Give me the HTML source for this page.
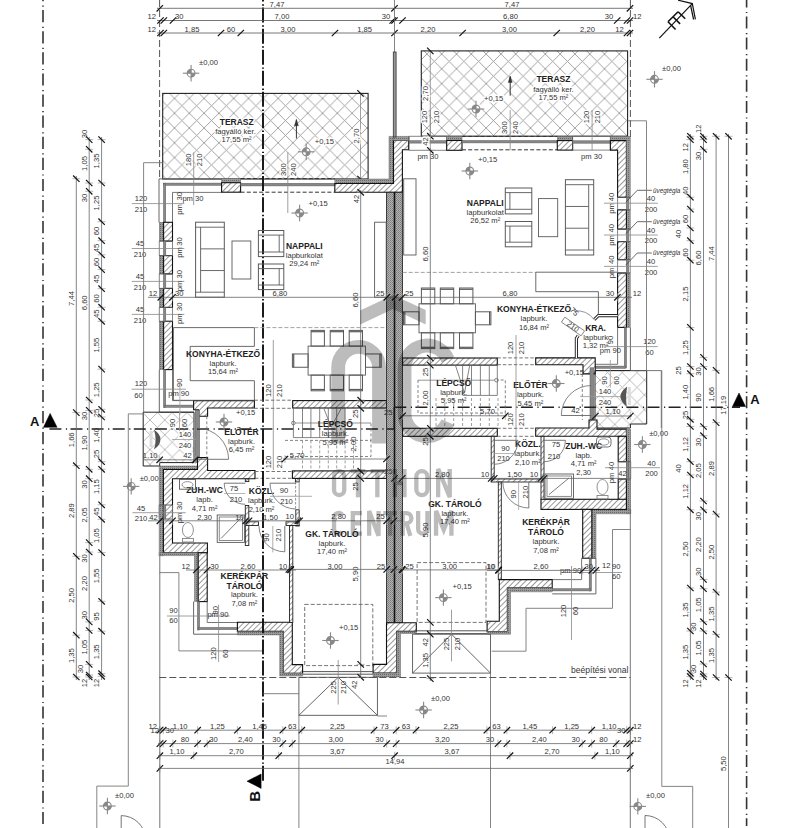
<!DOCTYPE html>
<html><head><meta charset="utf-8"><style>
html,body{margin:0;padding:0;background:#fff;overflow:hidden}
svg{display:block}
text{font-family:"Liberation Sans", sans-serif}
</style></head><body>
<svg width="787" height="828" viewBox="0 0 787 828">
<defs><pattern id="dg" patternUnits="userSpaceOnUse" width="3.95" height="3.95" patternTransform="rotate(45)"><rect width="3.95" height="3.95" fill="#fff"/><line x1="0" y1="0" x2="0" y2="3.95" stroke="#444" stroke-width="1.1"/></pattern><pattern id="ins" patternUnits="userSpaceOnUse" width="2" height="2"><rect width="2" height="2" fill="#9a9a9a"/><rect width="1" height="1" fill="#6a6a6a"/></pattern><pattern id="pw" patternUnits="userSpaceOnUse" width="2" height="2"><rect width="2" height="2" fill="#b4b4b4"/><rect width="1" height="1" fill="#7a7a7a"/><rect x="1" y="1" width="1" height="1" fill="#8a8a8a"/></pattern><pattern id="xh1" patternUnits="userSpaceOnUse" x="11.699999999999992" y="9.600000000000001" width="14.8" height="14.8"><path d="M0,0 L14.8,14.8 M14.8,0 L0,14.8 M-1,13.8 L1,15.8 M13.8,-1 L15.8,1 M-1,1 L1,-1 M13.8,15.8 L15.8,13.8" stroke="#999" stroke-width="0.9"/></pattern><pattern id="xh2" patternUnits="userSpaceOnUse" x="12.500000000000004" y="9.600000000000001" width="14.8" height="14.8"><path d="M0,0 L14.8,14.8 M14.8,0 L0,14.8 M-1,13.8 L1,15.8 M13.8,-1 L15.8,1 M-1,1 L1,-1 M13.8,15.8 L15.8,13.8" stroke="#999" stroke-width="0.9"/></pattern><pattern id="xh3" patternUnits="userSpaceOnUse" x="1.999999999999993" y="5.59999999999998" width="14.8" height="14.8"><path d="M0,0 L14.8,14.8 M14.8,0 L0,14.8 M-1,13.8 L1,15.8 M13.8,-1 L15.8,1 M-1,1 L1,-1 M13.8,15.8 L15.8,13.8" stroke="#aaa" stroke-width="0.8"/></pattern><pattern id="xh4" patternUnits="userSpaceOnUse" x="7.999999999999972" y="9.999999999999982" width="14.8" height="14.8"><path d="M0,0 L14.8,14.8 M14.8,0 L0,14.8 M-1,13.8 L1,15.8 M13.8,-1 L15.8,1 M-1,1 L1,-1 M13.8,15.8 L15.8,13.8" stroke="#aaa" stroke-width="0.8"/></pattern></defs>
<rect width="787" height="828" fill="#fff"/>
<rect x="162.7" y="93.4" width="205.4" height="85.6" fill="url(#xh1)" stroke="#222" stroke-width="1.1" />
<rect x="421.3" y="50.9" width="206.3" height="85.3" fill="url(#xh2)" stroke="#222" stroke-width="1.1" />
<text x="236.7" y="125.1" font-size="8.5" text-anchor="middle" font-weight="bold" fill="#222"  stroke="#fff" stroke-width="2.8" paint-order="stroke" stroke-linejoin="round">TERASZ</text>
<text x="235.5" y="134" font-size="7.6" text-anchor="middle" font-weight="normal" fill="#333"  stroke="#fff" stroke-width="2.8" paint-order="stroke" stroke-linejoin="round">fagyálló ker.</text>
<text x="236.6" y="142" font-size="7.6" text-anchor="middle" font-weight="normal" fill="#333"  stroke="#fff" stroke-width="2.8" paint-order="stroke" stroke-linejoin="round">17,55 m²</text>
<line x1="296.4" y1="138.5" x2="296.4" y2="119.8" stroke="#333" stroke-width="1" />
<polygon points="296.4,119.3 294.4,125.8 298.4,125.8" fill="#333" stroke="#333" stroke-width="0.4" />
<text x="314.8" y="143.8" font-size="7.6" text-anchor="start" font-weight="normal" fill="#333"  stroke="#fff" stroke-width="2.8" paint-order="stroke" stroke-linejoin="round">+0,15</text>
<circle cx="306.2" cy="151.8" r="6.1" fill="#fff"/>
<g stroke="#888" fill="none" stroke-width="1.1"><circle cx="306.2" cy="151.8" r="3.9"/><line x1="298.0" y1="151.8" x2="314.4" y2="151.8"/><line x1="306.2" y1="143.60000000000002" x2="306.2" y2="160.0"/></g><path d="M306.2,147.9 A3.9,3.9 0 0,0 302.3,151.8 L306.2,151.8 Z" fill="#888"/><path d="M306.2,155.70000000000002 A3.9,3.9 0 0,0 310.09999999999997,151.8 L306.2,151.8 Z" fill="#888"/>
<text x="553.4" y="82.4" font-size="8.5" text-anchor="middle" font-weight="bold" fill="#222"  stroke="#fff" stroke-width="2.8" paint-order="stroke" stroke-linejoin="round">TERASZ</text>
<text x="553.4" y="91.7" font-size="7.6" text-anchor="middle" font-weight="normal" fill="#333"  stroke="#fff" stroke-width="2.8" paint-order="stroke" stroke-linejoin="round">fagyálló ker.</text>
<text x="553.4" y="100.2" font-size="7.6" text-anchor="middle" font-weight="normal" fill="#333"  stroke="#fff" stroke-width="2.8" paint-order="stroke" stroke-linejoin="round">17,55 m²</text>
<line x1="510.2" y1="95.7" x2="510.2" y2="76.5" stroke="#333" stroke-width="1" />
<polygon points="510.2,76.0 508.2,82.5 512.2,82.5" fill="#333" stroke="#333" stroke-width="0.4" />
<text x="484" y="101" font-size="7.6" text-anchor="start" font-weight="normal" fill="#333"  stroke="#fff" stroke-width="2.8" paint-order="stroke" stroke-linejoin="round">+0,15</text>
<circle cx="476" cy="109" r="6.1" fill="#fff"/>
<g stroke="#888" fill="none" stroke-width="1.1"><circle cx="476" cy="109" r="3.9"/><line x1="467.8" y1="109" x2="484.2" y2="109"/><line x1="476" y1="100.8" x2="476" y2="117.2"/></g><path d="M476,105.1 A3.9,3.9 0 0,0 472.1,109 L476,109 Z" fill="#888"/><path d="M476,112.9 A3.9,3.9 0 0,0 479.9,109 L476,109 Z" fill="#888"/>
<line x1="360.5" y1="93.4" x2="360.5" y2="179" stroke="#888" stroke-width="0.8" />
<line x1="357.3" y1="90.2" x2="363.7" y2="96.60000000000001" stroke="#111" stroke-width="1.2" />
<line x1="357.3" y1="175.8" x2="363.7" y2="182.2" stroke="#111" stroke-width="1.2" />
<text x="358.5" y="136" font-size="7.6" text-anchor="middle" font-weight="normal" fill="#333" transform="rotate(-90 358.5 136)"  stroke="#fff" stroke-width="2.8" paint-order="stroke" stroke-linejoin="round">2,70</text>
<line x1="430.3" y1="50.9" x2="430.3" y2="136.2" stroke="#888" stroke-width="0.8" />
<line x1="427.1" y1="47.699999999999996" x2="433.5" y2="54.1" stroke="#111" stroke-width="1.2" />
<line x1="427.1" y1="133.0" x2="433.5" y2="139.39999999999998" stroke="#111" stroke-width="1.2" />
<text x="428.3" y="93.5" font-size="7.6" text-anchor="middle" font-weight="normal" fill="#333" transform="rotate(-90 428.3 93.5)"  stroke="#fff" stroke-width="2.8" paint-order="stroke" stroke-linejoin="round">2,70</text>
<line x1="159" y1="178.9" x2="221.6" y2="178.9" stroke="#666" stroke-width="1" />
<line x1="172.5" y1="192.4" x2="221.6" y2="192.4" stroke="#666" stroke-width="0.9" />
<rect x="163.5" y="183.1" width="58.099999999999994" height="2.2" fill="#888" stroke="#5a5a5a" stroke-width="0.5"/>
<rect x="221.6" y="178.6" width="19.0" height="4.099999999999994" fill="url(#ins)" stroke="#666" stroke-width="0.5"/>
<rect x="221.6" y="182.7" width="19.0" height="9.5" fill="url(#dg)" stroke="#111" stroke-width="1.1"/>
<line x1="240.6" y1="178.6" x2="334.8" y2="178.6" stroke="#333" stroke-width="1" stroke-dasharray="4 2.2"/>
<line x1="240.6" y1="192.2" x2="334.8" y2="192.2" stroke="#333" stroke-width="1" stroke-dasharray="4 2.2"/>
<rect x="240.6" y="183.29999999999998" width="94.20000000000002" height="2.6" fill="#888" stroke="#5a5a5a" stroke-width="0.5"/>
<polygon points="334.8,179 389,179 389,136.4 393.5,136.4 393.5,183.5 334.8,183.5" fill="url(#ins)" stroke="#666" stroke-width="0.5" />
<polygon points="334.8,183.5 393.5,183.5 393.5,140.2 408.5,140.2 408.5,149.8 402.4,149.8 402.4,192.3 334.8,192.3" fill="url(#dg)" stroke="#111" stroke-width="1.1" />
<line x1="159" y1="178.9" x2="159" y2="222.3" stroke="#666" stroke-width="1" />
<line x1="172.5" y1="192.4" x2="172.5" y2="222.3" stroke="#666" stroke-width="0.9" />
<rect x="163.5" y="183.2" width="2.2" height="39.10000000000002" fill="#888" stroke="#5a5a5a" stroke-width="0.5"/>
<rect x="159.3" y="222.3" width="4.299999999999983" height="18.799999999999983" fill="url(#ins)" stroke="#666" stroke-width="0.5"/>
<rect x="163.6" y="222.3" width="8.900000000000006" height="18.799999999999983" fill="url(#dg)" stroke="#111" stroke-width="1.1"/>
<rect x="159.3" y="255.6" width="4.299999999999983" height="18.299999999999983" fill="url(#ins)" stroke="#666" stroke-width="0.5"/>
<rect x="163.6" y="255.6" width="8.900000000000006" height="18.299999999999983" fill="url(#dg)" stroke="#111" stroke-width="1.1"/>
<rect x="159.3" y="288.4" width="4.299999999999983" height="19.0" fill="url(#ins)" stroke="#666" stroke-width="0.5"/>
<rect x="163.6" y="288.4" width="8.900000000000006" height="19.0" fill="url(#dg)" stroke="#111" stroke-width="1.1"/>
<rect x="159.3" y="321.3" width="4.299999999999983" height="48.30000000000001" fill="url(#ins)" stroke="#666" stroke-width="0.5"/>
<rect x="163.6" y="321.3" width="8.900000000000006" height="48.30000000000001" fill="url(#dg)" stroke="#111" stroke-width="1.1"/>
<line x1="159.3" y1="241.1" x2="159.3" y2="255.6" stroke="#777" stroke-width="0.9" />
<line x1="172.5" y1="241.1" x2="172.5" y2="255.6" stroke="#777" stroke-width="0.9" />
<line x1="159.3" y1="241.1" x2="172.5" y2="241.1" stroke="#555" stroke-width="0.9" />
<line x1="159.3" y1="255.6" x2="172.5" y2="255.6" stroke="#555" stroke-width="0.9" />
<rect x="163.4" y="241.1" width="2.4" height="14.5" fill="#888" stroke="#5a5a5a" stroke-width="0.5"/>
<line x1="159.3" y1="273.9" x2="159.3" y2="288.4" stroke="#777" stroke-width="0.9" />
<line x1="172.5" y1="273.9" x2="172.5" y2="288.4" stroke="#777" stroke-width="0.9" />
<line x1="159.3" y1="273.9" x2="172.5" y2="273.9" stroke="#555" stroke-width="0.9" />
<line x1="159.3" y1="288.4" x2="172.5" y2="288.4" stroke="#555" stroke-width="0.9" />
<rect x="163.4" y="273.9" width="2.4" height="14.5" fill="#888" stroke="#5a5a5a" stroke-width="0.5"/>
<line x1="159.3" y1="307.4" x2="159.3" y2="321.3" stroke="#777" stroke-width="0.9" />
<line x1="172.5" y1="307.4" x2="172.5" y2="321.3" stroke="#777" stroke-width="0.9" />
<line x1="159.3" y1="307.4" x2="172.5" y2="307.4" stroke="#555" stroke-width="0.9" />
<line x1="159.3" y1="321.3" x2="172.5" y2="321.3" stroke="#555" stroke-width="0.9" />
<rect x="163.4" y="307.4" width="2.4" height="13.900000000000034" fill="#888" stroke="#5a5a5a" stroke-width="0.5"/>
<line x1="159.3" y1="369.6" x2="159.3" y2="412.2" stroke="#666" stroke-width="1" />
<line x1="172.5" y1="369.6" x2="172.5" y2="400.6" stroke="#666" stroke-width="0.9" />
<rect x="163.5" y="369.6" width="2.2" height="37.89999999999998" fill="#888" stroke="#5a5a5a" stroke-width="0.5"/>
<rect x="164.6" y="405.09999999999997" width="29.400000000000006" height="2.2" fill="#888" stroke="#5a5a5a" stroke-width="0.5"/>
<line x1="159.3" y1="412.2" x2="194" y2="412.2" stroke="#666" stroke-width="1" />
<line x1="172.5" y1="400.6" x2="194" y2="400.6" stroke="#666" stroke-width="0.9" />
<polygon points="193.6,400.6 254.4,400.6 254.4,408 207.6,408 207.6,416.3 198.5,416.3 198.5,409.7 193.6,409.7" fill="url(#dg)" stroke="#111" stroke-width="1.1" />
<rect x="292.7" y="400.6" width="93.80000000000001" height="7.399999999999977" fill="url(#dg)" stroke="#111" stroke-width="1.1"/>
<rect x="195.2" y="410.2" width="4.4" height="52.2" fill="#888" stroke="#555" stroke-width="0.5"/>
<polygon points="143.2,412.2 194,412.2 194,462.6 159.7,462.6 159.7,466 143.2,466" fill="url(#xh3)" stroke="#222" stroke-width="1" />
<polygon points="159.2,466 197.5,466 197.5,469.5 163.4,469.5 163.4,555.6 159.2,555.6" fill="url(#ins)" stroke="#666" stroke-width="0.5" />
<polygon points="163.4,469.5 197.5,469.5 197.5,457.6 207.6,457.6 207.6,470.5 255,470.5 255,478.8 172.5,478.8 172.5,543 207.4,543 207.4,552.8 163.4,552.8" fill="url(#dg)" stroke="#111" stroke-width="1.1" />
<line x1="159.2" y1="505" x2="159.2" y2="519" stroke="#777" stroke-width="0.9" />
<line x1="172.5" y1="505" x2="172.5" y2="519" stroke="#777" stroke-width="0.9" />
<line x1="159.2" y1="505" x2="172.5" y2="505" stroke="#555" stroke-width="0.9" />
<line x1="159.2" y1="519" x2="172.5" y2="519" stroke="#555" stroke-width="0.9" />
<rect x="163.4" y="505" width="2.4" height="14" fill="#888" stroke="#5a5a5a" stroke-width="0.5"/>
<rect x="245.3" y="478.8" width="3.5" height="2.8" fill="url(#dg)" stroke="#222" stroke-width="0.9"/>
<rect x="245.3" y="505.5" width="3.5" height="40" fill="url(#dg)" stroke="#222" stroke-width="0.9"/>
<path d="M255,471.5 H292.4 M255,478.3 H292.4" stroke="#666" stroke-width="0.9" stroke-dasharray="3.5 2"/>
<rect x="295.4" y="478.1" width="3.8" height="3.8" fill="url(#dg)" stroke="#222" stroke-width="0.9"/>
<rect x="295.8" y="509.8" width="3.4" height="16.2" fill="url(#dg)" stroke="#222" stroke-width="0.9"/>
<line x1="295.6" y1="482" x2="295.6" y2="509" stroke="#888" stroke-width="0.9" stroke-dasharray="2.5 1.5"/>
<line x1="299.2" y1="482" x2="299.2" y2="509" stroke="#aaa" stroke-width="1.2"/>
<rect x="245.9" y="521.8" width="12.6" height="3.7" fill="url(#dg)" stroke="#222" stroke-width="0.9"/>
<rect x="286" y="521.8" width="13.2" height="3.7" fill="url(#dg)" stroke="#222" stroke-width="0.9"/>
<polygon points="159.2,552.8 198.2,552.8 198.2,601.6 194.5,601.6 194.5,555.6 159.2,555.6" fill="url(#ins)" stroke="#666" stroke-width="0.5" />
<rect x="198.2" y="552.8" width="9.0" height="48.80000000000007" fill="url(#dg)" stroke="#111" stroke-width="1.1"/>
<line x1="193.6" y1="601.6" x2="193.6" y2="634.2" stroke="#666" stroke-width="1" />
<line x1="207.2" y1="601.6" x2="207.2" y2="622.5" stroke="#666" stroke-width="0.9" />
<rect x="197.4" y="601.6" width="2.2" height="28.399999999999977" fill="#888" stroke="#5a5a5a" stroke-width="0.5"/>
<rect x="198.5" y="627.4" width="39.5" height="2.2" fill="#888" stroke="#5a5a5a" stroke-width="0.5"/>
<line x1="193.6" y1="634.2" x2="238" y2="634.2" stroke="#666" stroke-width="1" />
<line x1="207.2" y1="622.5" x2="238" y2="622.5" stroke="#666" stroke-width="0.9" />
<polygon points="237.4,622.3 292.3,622.3 292.3,664.6 302.6,664.6 302.6,673.2 283.2,673.2 283.2,631.4 237.4,631.4" fill="url(#dg)" stroke="#111" stroke-width="1.1" />
<polygon points="237.4,631.4 283.2,631.4 283.2,673.2 302.6,673.2 302.6,676 279.7,676 279.7,634.9 237.4,634.9" fill="url(#ins)" stroke="#666" stroke-width="0.5" />
<rect x="289.5" y="525.5" width="3.3" height="97" fill="url(#dg)" stroke="#222" stroke-width="0.9"/>
<rect x="292.4" y="470.9" width="94.30000000000001" height="7.5" fill="url(#dg)" stroke="#111" stroke-width="1.1"/>
<rect x="304.7" y="604.4" width="68.1" height="61.2" fill="none" stroke="#666" stroke-width="0.9" stroke-dasharray="4 2"/>
<rect x="386.6" y="192.3" width="7.899999999999977" height="430.49999999999994" fill="url(#pw)" stroke="#222" stroke-width="0.9"/>
<rect x="394.5" y="192.3" width="7.899999999999977" height="430.49999999999994" fill="url(#pw)" stroke="#222" stroke-width="0.9"/>
<line x1="394.5" y1="192.3" x2="394.5" y2="622.8" stroke="#111" stroke-width="1.6" />
<polygon points="393.5,136.4 409,136.4 409,140.5 393.5,140.5" fill="url(#ins)" stroke="#666" stroke-width="0.5" />
<line x1="409" y1="136.3" x2="446.7" y2="136.3" stroke="#777" stroke-width="0.9" />
<line x1="409" y1="150.3" x2="446.7" y2="150.3" stroke="#777" stroke-width="0.9" />
<line x1="409" y1="136.3" x2="409" y2="150.3" stroke="#555" stroke-width="0.9" />
<line x1="446.7" y1="136.3" x2="446.7" y2="150.3" stroke="#555" stroke-width="0.9" />
<rect x="409" y="140.70000000000002" width="37.69999999999999" height="2.4" fill="#888" stroke="#5a5a5a" stroke-width="0.5"/>
<rect x="446.7" y="136.3" width="15.300000000000011" height="4.199999999999989" fill="url(#ins)" stroke="#666" stroke-width="0.5"/>
<rect x="446.7" y="140.5" width="15.300000000000011" height="9.800000000000011" fill="url(#dg)" stroke="#111" stroke-width="1.1"/>
<line x1="462" y1="136.4" x2="557.3" y2="136.4" stroke="#333" stroke-width="1" stroke-dasharray="4 2.2"/>
<line x1="462" y1="149.8" x2="557.3" y2="149.8" stroke="#333" stroke-width="1" stroke-dasharray="4 2.2"/>
<rect x="462" y="140.5" width="95.29999999999995" height="2.4" fill="#888" stroke="#5a5a5a" stroke-width="0.5"/>
<rect x="557.3" y="136.5" width="15.300000000000068" height="4.099999999999994" fill="url(#ins)" stroke="#666" stroke-width="0.5"/>
<rect x="557.3" y="140.6" width="15.300000000000068" height="9.5" fill="url(#dg)" stroke="#111" stroke-width="1.1"/>
<line x1="572.6" y1="136.3" x2="610.4" y2="136.3" stroke="#777" stroke-width="0.9" />
<line x1="572.6" y1="150.1" x2="610.4" y2="150.1" stroke="#777" stroke-width="0.9" />
<line x1="572.6" y1="136.3" x2="572.6" y2="150.1" stroke="#555" stroke-width="0.9" />
<line x1="610.4" y1="136.3" x2="610.4" y2="150.1" stroke="#555" stroke-width="0.9" />
<rect x="572.6" y="140.8" width="37.799999999999955" height="2.4" fill="#888" stroke="#5a5a5a" stroke-width="0.5"/>
<rect x="610.4" y="136.3" width="19.800000000000068" height="4.299999999999983" fill="url(#ins)" stroke="#666" stroke-width="0.5"/>
<polygon points="610.4,140.6 626.4,140.6 626.4,197.3 617.6,197.3 617.6,150.1 610.4,150.1" fill="url(#dg)" stroke="#111" stroke-width="1.1" />
<rect x="626.4" y="140.6" width="3.800000000000068" height="56.70000000000002" fill="url(#ins)" stroke="#666" stroke-width="0.5"/>
<rect x="626.4" y="209.8" width="3.800000000000068" height="19.299999999999983" fill="url(#ins)" stroke="#666" stroke-width="0.5"/>
<rect x="617.6" y="209.8" width="8.799999999999955" height="19.299999999999983" fill="url(#dg)" stroke="#111" stroke-width="1.1"/>
<rect x="626.4" y="241.6" width="3.800000000000068" height="18.099999999999994" fill="url(#ins)" stroke="#666" stroke-width="0.5"/>
<rect x="617.6" y="241.6" width="8.799999999999955" height="18.099999999999994" fill="url(#dg)" stroke="#111" stroke-width="1.1"/>
<rect x="626.4" y="273" width="3.800000000000068" height="54.39999999999998" fill="url(#ins)" stroke="#666" stroke-width="0.5"/>
<rect x="617.6" y="273" width="8.799999999999955" height="54.39999999999998" fill="url(#dg)" stroke="#111" stroke-width="1.1"/>
<line x1="630.2" y1="197.3" x2="630.2" y2="209.8" stroke="#777" stroke-width="0.9" />
<line x1="617.6" y1="197.3" x2="617.6" y2="209.8" stroke="#777" stroke-width="0.9" />
<line x1="630.2" y1="197.3" x2="617.6" y2="197.3" stroke="#555" stroke-width="0.9" />
<line x1="630.2" y1="209.8" x2="617.6" y2="209.8" stroke="#555" stroke-width="0.9" />
<rect x="626.3" y="197.3" width="2.4" height="12.5" fill="#888" stroke="#5a5a5a" stroke-width="0.5"/>
<line x1="630.2" y1="229.1" x2="630.2" y2="241.6" stroke="#777" stroke-width="0.9" />
<line x1="617.6" y1="229.1" x2="617.6" y2="241.6" stroke="#777" stroke-width="0.9" />
<line x1="630.2" y1="229.1" x2="617.6" y2="229.1" stroke="#555" stroke-width="0.9" />
<line x1="630.2" y1="241.6" x2="617.6" y2="241.6" stroke="#555" stroke-width="0.9" />
<rect x="626.3" y="229.1" width="2.4" height="12.5" fill="#888" stroke="#5a5a5a" stroke-width="0.5"/>
<line x1="630.2" y1="259.7" x2="630.2" y2="273" stroke="#777" stroke-width="0.9" />
<line x1="617.6" y1="259.7" x2="617.6" y2="273" stroke="#777" stroke-width="0.9" />
<line x1="630.2" y1="259.7" x2="617.6" y2="259.7" stroke="#555" stroke-width="0.9" />
<line x1="630.2" y1="273" x2="617.6" y2="273" stroke="#555" stroke-width="0.9" />
<rect x="626.3" y="259.7" width="2.4" height="13.300000000000011" fill="#888" stroke="#5a5a5a" stroke-width="0.5"/>
<line x1="630.4" y1="327.4" x2="630.4" y2="370.6" stroke="#666" stroke-width="1" />
<line x1="617.6" y1="327.4" x2="617.6" y2="364.3" stroke="#666" stroke-width="0.9" />
<rect x="624.3" y="327.4" width="2.2" height="40.60000000000002" fill="#888" stroke="#5a5a5a" stroke-width="0.5"/>
<rect x="591.4" y="366.09999999999997" width="34.0" height="2.2" fill="#888" stroke="#5a5a5a" stroke-width="0.5"/>
<line x1="591.4" y1="364.3" x2="617.6" y2="364.3" stroke="#666" stroke-width="0.9" />
<line x1="591.4" y1="370.6" x2="630.4" y2="370.6" stroke="#666" stroke-width="1" />
<rect x="402.6" y="358" width="94.69999999999999" height="7.100000000000023" fill="url(#dg)" stroke="#111" stroke-width="1.1"/>
<rect x="402.6" y="428.3" width="94.69999999999999" height="8.0" fill="url(#dg)" stroke="#111" stroke-width="1.1"/>
<polygon points="535.7,357.9 583,357.9 583,357.9 595.2,357.9 595.2,373.9 583,373.9 583,364.7 535.7,364.7" fill="url(#dg)" stroke="#111" stroke-width="1.1" />
<polyline points="576.4,358 576.4,338.5 578.2,335.7" fill="none" stroke="#222" stroke-width="3.2" />
<polyline points="594.2,319.6 598.4,315.6 617.6,315.6" fill="none" stroke="#222" stroke-width="3.2" />
<polyline points="576.4,358 576.4,338.5 578.2,335.7" fill="none" stroke="#fff" stroke-width="1.3" />
<polyline points="594.2,319.6 598.4,315.6 617.6,315.6" fill="none" stroke="#fff" stroke-width="1.3" />
<rect x="590" y="367.8" width="3.6" height="55.6" fill="#888" stroke="#555" stroke-width="0.5"/>
<polygon points="595,370.6 646.7,370.6 646.7,424 630.4,424 630.4,428 595,428" fill="url(#xh4)" stroke="#222" stroke-width="1" />
<line x1="630.4" y1="370.6" x2="661.3" y2="370.6" stroke="#666" stroke-width="0.9" />
<line x1="661.3" y1="370.6" x2="661.3" y2="428" stroke="#666" stroke-width="0.9" />
<polygon points="535.7,428 589,428 589,420 597,420 597,429.1 626.4,429.1 626.4,436.3 535.7,436.3" fill="url(#dg)" stroke="#111" stroke-width="1.1" />
<rect x="626.4" y="429.1" width="4.300000000000068" height="84.69999999999993" fill="url(#ins)" stroke="#666" stroke-width="0.5"/>
<polygon points="591.8,509.4 630.7,509.4 630.7,513.8 596,513.8 596,558.3 591.8,558.3" fill="url(#ins)" stroke="#666" stroke-width="0.5" />
<rect x="618.2" y="436.3" width="8.199999999999932" height="25.399999999999977" fill="url(#dg)" stroke="#111" stroke-width="1.1"/>
<rect x="618.2" y="479" width="8.199999999999932" height="30.399999999999977" fill="url(#dg)" stroke="#111" stroke-width="1.1"/>
<line x1="630.7" y1="461.7" x2="630.7" y2="479" stroke="#777" stroke-width="0.9" />
<line x1="618.2" y1="461.7" x2="618.2" y2="479" stroke="#777" stroke-width="0.9" />
<line x1="630.7" y1="461.7" x2="618.2" y2="461.7" stroke="#555" stroke-width="0.9" />
<line x1="630.7" y1="479" x2="618.2" y2="479" stroke="#555" stroke-width="0.9" />
<rect x="626.3" y="461.7" width="2.4" height="17.30000000000001" fill="#888" stroke="#5a5a5a" stroke-width="0.5"/>
<rect x="541" y="499.3" width="85.39999999999998" height="10.099999999999966" fill="url(#dg)" stroke="#111" stroke-width="1.1"/>
<rect x="541" y="436.3" width="3" height="63" fill="url(#dg)" stroke="#222" stroke-width="0.9"/>
<rect x="491.2" y="436.3" width="3" height="42.7" fill="url(#dg)" stroke="#222" stroke-width="0.9"/>
<rect x="491.2" y="479" width="52" height="3" fill="url(#dg)" stroke="#222" stroke-width="0.9"/>
<rect x="582.7" y="509.4" width="9.099999999999909" height="48.89999999999998" fill="url(#dg)" stroke="#111" stroke-width="1.1"/>
<rect x="498.3" y="482" width="3" height="97.6" fill="url(#dg)" stroke="#222" stroke-width="0.9"/>
<line x1="595.9" y1="558.3" x2="595.9" y2="593.9" stroke="#666" stroke-width="1" />
<line x1="581.6" y1="558.3" x2="581.6" y2="579.6" stroke="#666" stroke-width="0.9" />
<rect x="589.1999999999999" y="558.3" width="2.2" height="32.700000000000045" fill="#888" stroke="#5a5a5a" stroke-width="0.5"/>
<rect x="552.2" y="588.6999999999999" width="38.09999999999991" height="2.2" fill="#888" stroke="#5a5a5a" stroke-width="0.5"/>
<line x1="552.2" y1="579.6" x2="581.6" y2="579.6" stroke="#666" stroke-width="0.9" />
<line x1="552.2" y1="593.9" x2="595.9" y2="593.9" stroke="#666" stroke-width="1" />
<line x1="581.6" y1="558.3" x2="595.9" y2="558.3" stroke="#555" stroke-width="0.9" />
<polygon points="499.3,579.6 552.2,579.6 552.2,587.8 507.4,587.8 507.4,631.5 487.1,631.5 487.1,621.3 499.3,621.3" fill="url(#dg)" stroke="#111" stroke-width="1.1" />
<polygon points="507.4,587.8 552.2,587.8 552.2,591.8 510.5,591.8 510.5,634.2 487.1,634.2 487.1,631.5 507.4,631.5" fill="url(#ins)" stroke="#666" stroke-width="0.5" />
<polygon points="386.5,622.8 416.3,622.8 416.3,631.4 396.7,631.4 396.7,673 373.1,673 373.1,664.4 386.5,664.4" fill="url(#dg)" stroke="#111" stroke-width="1.1" />
<polygon points="396.7,631.4 416.3,631.4 416.3,633.5 400.5,633.5 400.5,677 373.1,677 373.1,673 396.7,673" fill="url(#ins)" stroke="#666" stroke-width="0.5" />
<line x1="415.3" y1="630.8" x2="486.9" y2="630.8" stroke="#444" stroke-width="0.9" />
<line x1="415.3" y1="633.6" x2="486.9" y2="633.6" stroke="#444" stroke-width="0.9" />
<rect x="417.1" y="562.6" width="68.9" height="59.8" fill="none" stroke="#666" stroke-width="0.9" stroke-dasharray="4 2"/>
<rect x="412.6" y="634.2" width="77.9" height="38.9" fill="none" stroke="#555" stroke-width="0.9" />
<polyline points="412.6,673.1 451.5,634.2 490.5,673.1" fill="none" stroke="#555" stroke-width="0.9" />
<rect x="298.9" y="677.3" width="78.5" height="38" fill="none" stroke="#555" stroke-width="0.9" />
<polyline points="298.9,715.3 338.2,677.3 377.4,715.3" fill="none" stroke="#555" stroke-width="0.9" />
<line x1="303" y1="671.6" x2="373.2" y2="671.6" stroke="#444" stroke-width="0.9" />
<line x1="303" y1="674.2" x2="373.2" y2="674.2" stroke="#444" stroke-width="0.9" />
<line x1="43" y1="-11" x2="43" y2="826" stroke="#333" stroke-width="1.6" stroke-dasharray="12.2 4.4 1.2 3.3" stroke-dashoffset="0"/>
<line x1="263" y1="-13.46" x2="263" y2="781.5" stroke="#111" stroke-width="1.9" stroke-dasharray="15 2.7 1.4 1.96" stroke-dashoffset="0"/>
<line x1="746.6" y1="-4.6" x2="746.6" y2="826" stroke="#333" stroke-width="1.6" stroke-dasharray="12 4.5 1.2 3.4" stroke-dashoffset="0"/>
<line x1="49.4" y1="429" x2="394.3" y2="429" stroke="#222" stroke-width="1.6" stroke-dasharray="12 4.5 1.2 3.4" stroke-dashoffset="0"/>
<line x1="394.3" y1="407.3" x2="740" y2="407.3" stroke="#222" stroke-width="1.6" stroke-dasharray="12 4.5 1.2 3.4" stroke-dashoffset="0"/>
<line x1="394.3" y1="407.3" x2="394.3" y2="429" stroke="#111" stroke-width="1.4" />
<text x="34.8" y="426" font-size="13" text-anchor="middle" font-weight="bold" fill="#111" >A</text>
<polygon points="50.1,413.4 43.5,427.3 57.1,427.3" fill="#000" stroke="#000" stroke-width="0.5" />
<text x="755" y="404" font-size="13" text-anchor="middle" font-weight="bold" fill="#111" >A</text>
<polygon points="739,393 732.5,406.5 745.5,406.5" fill="#000" stroke="#000" stroke-width="0.5" />
<text x="260" y="796.4" font-size="15" text-anchor="middle" font-weight="bold" fill="#111" transform="rotate(-90 260 796.4)" >B</text>
<polygon points="247,781.2 261.1,774 261.1,788.4" fill="#000" stroke="#000" stroke-width="0.5" />
<line x1="159.6" y1="0" x2="159.6" y2="179" stroke="#555" stroke-width="1" stroke-dasharray="7 3"/>
<line x1="630.4" y1="0" x2="630.4" y2="137" stroke="#555" stroke-width="1" stroke-dasharray="7 3"/>
<line x1="157" y1="8.3" x2="633" y2="8.3" stroke="#555" stroke-width="0.8" />
<line x1="156.60000000000002" y1="11.5" x2="163.0" y2="5.1000000000000005" stroke="#111" stroke-width="1.2" />
<line x1="391.3" y1="11.5" x2="397.7" y2="5.1000000000000005" stroke="#111" stroke-width="1.2" />
<line x1="626.8" y1="11.5" x2="633.2" y2="5.1000000000000005" stroke="#111" stroke-width="1.2" />
<text x="277" y="6.9" font-size="7.6" text-anchor="middle" font-weight="normal" fill="#333" >7,47</text>
<text x="512" y="6.9" font-size="7.6" text-anchor="middle" font-weight="normal" fill="#333" >7,47</text>
<line x1="157" y1="20.5" x2="633" y2="20.5" stroke="#555" stroke-width="0.8" />
<line x1="157.3" y1="23.7" x2="163.7" y2="17.3" stroke="#111" stroke-width="1.2" />
<line x1="160.60000000000002" y1="23.7" x2="167.0" y2="17.3" stroke="#111" stroke-width="1.2" />
<line x1="169.8" y1="23.7" x2="176.2" y2="17.3" stroke="#111" stroke-width="1.2" />
<line x1="389.5" y1="23.7" x2="395.9" y2="17.3" stroke="#111" stroke-width="1.2" />
<line x1="391.3" y1="23.7" x2="397.7" y2="17.3" stroke="#111" stroke-width="1.2" />
<line x1="399.3" y1="23.7" x2="405.7" y2="17.3" stroke="#111" stroke-width="1.2" />
<line x1="614.0" y1="23.7" x2="620.4000000000001" y2="17.3" stroke="#111" stroke-width="1.2" />
<line x1="623.8" y1="23.7" x2="630.2" y2="17.3" stroke="#111" stroke-width="1.2" />
<line x1="626.8" y1="23.7" x2="633.2" y2="17.3" stroke="#111" stroke-width="1.2" />
<text x="156" y="19.2" font-size="7.6" text-anchor="end" font-weight="normal" fill="#333" >12</text>
<text x="175" y="19.2" font-size="7.6" text-anchor="start" font-weight="normal" fill="#333" >30</text>
<text x="282" y="19.2" font-size="7.6" text-anchor="middle" font-weight="normal" fill="#333" >7,00</text>
<text x="386" y="19.2" font-size="7.6" text-anchor="middle" font-weight="normal" fill="#333" >30</text>
<text x="510.5" y="19.2" font-size="7.6" text-anchor="middle" font-weight="normal" fill="#333" >6,80</text>
<text x="609" y="19.2" font-size="7.6" text-anchor="middle" font-weight="normal" fill="#333" >30</text>
<text x="633" y="19.2" font-size="7.6" text-anchor="start" font-weight="normal" fill="#333" >12</text>
<line x1="157" y1="33" x2="633" y2="33" stroke="#555" stroke-width="0.8" />
<line x1="157.3" y1="36.2" x2="163.7" y2="29.8" stroke="#111" stroke-width="1.2" />
<line x1="160.60000000000002" y1="36.2" x2="167.0" y2="29.8" stroke="#111" stroke-width="1.2" />
<line x1="217.8" y1="36.2" x2="224.2" y2="29.8" stroke="#111" stroke-width="1.2" />
<line x1="237.60000000000002" y1="36.2" x2="244.0" y2="29.8" stroke="#111" stroke-width="1.2" />
<line x1="331.8" y1="36.2" x2="338.2" y2="29.8" stroke="#111" stroke-width="1.2" />
<line x1="391.3" y1="36.2" x2="397.7" y2="29.8" stroke="#111" stroke-width="1.2" />
<line x1="459.40000000000003" y1="36.2" x2="465.8" y2="29.8" stroke="#111" stroke-width="1.2" />
<line x1="553.5" y1="36.2" x2="559.9000000000001" y2="29.8" stroke="#111" stroke-width="1.2" />
<line x1="623.8" y1="36.2" x2="630.2" y2="29.8" stroke="#111" stroke-width="1.2" />
<line x1="626.8" y1="36.2" x2="633.2" y2="29.8" stroke="#111" stroke-width="1.2" />
<text x="156" y="31.6" font-size="7.6" text-anchor="end" font-weight="normal" fill="#333" >12</text>
<text x="192" y="31.6" font-size="7.6" text-anchor="middle" font-weight="normal" fill="#333" >1,85</text>
<text x="231" y="31.6" font-size="7.6" text-anchor="middle" font-weight="normal" fill="#333" >60</text>
<text x="288" y="31.6" font-size="7.6" text-anchor="middle" font-weight="normal" fill="#333" >3,00</text>
<text x="364.6" y="31.6" font-size="7.6" text-anchor="middle" font-weight="normal" fill="#333" >1,85</text>
<text x="428" y="31.6" font-size="7.6" text-anchor="middle" font-weight="normal" fill="#333" >2,20</text>
<text x="509.5" y="31.6" font-size="7.6" text-anchor="middle" font-weight="normal" fill="#333" >3,00</text>
<text x="587.5" y="31.6" font-size="7.6" text-anchor="middle" font-weight="normal" fill="#333" >2,20</text>
<text x="619.5" y="31.6" font-size="7.6" text-anchor="middle" font-weight="normal" fill="#333" >12</text>
<line x1="394.5" y1="0" x2="394.5" y2="52" stroke="#666" stroke-width="0.8" />
<rect x="393.3" y="52" width="2.8" height="85" fill="#999" stroke="#333" stroke-width="0.8"/>
<g stroke="#111" stroke-width="1.2" fill="none"><line x1="659.3" y1="38.1" x2="692.3" y2="3.6"/><polyline points="678.1,0.2 692.3,3.6 695.4,19.3"/><line x1="690.5" y1="5" x2="693.6" y2="19.5"/></g><g stroke="#111" stroke-width="1.6" fill="none"><line x1="668" y1="21.8" x2="678.1" y2="11.7"/><line x1="668" y1="21.8" x2="675.6" y2="29.5"/><line x1="673" y1="16.8" x2="680.1" y2="23.9"/><line x1="678.1" y1="11.7" x2="685.2" y2="18.8"/></g>
<line x1="76.3" y1="176" x2="76.3" y2="680" stroke="#666" stroke-width="0.8" />
<line x1="72.3" y1="178.7" x2="80.3" y2="178.7" stroke="#999" stroke-width="0.7" />
<line x1="73.1" y1="175.5" x2="79.5" y2="181.89999999999998" stroke="#111" stroke-width="1.2" />
<line x1="72.3" y1="412.6" x2="80.3" y2="412.6" stroke="#999" stroke-width="0.7" />
<line x1="73.1" y1="409.40000000000003" x2="79.5" y2="415.8" stroke="#111" stroke-width="1.2" />
<line x1="72.3" y1="465.7" x2="80.3" y2="465.7" stroke="#999" stroke-width="0.7" />
<line x1="73.1" y1="462.5" x2="79.5" y2="468.9" stroke="#111" stroke-width="1.2" />
<line x1="72.3" y1="556.3" x2="80.3" y2="556.3" stroke="#999" stroke-width="0.7" />
<line x1="73.1" y1="553.0999999999999" x2="79.5" y2="559.5" stroke="#111" stroke-width="1.2" />
<line x1="72.3" y1="635.2" x2="80.3" y2="635.2" stroke="#999" stroke-width="0.7" />
<line x1="73.1" y1="632.0" x2="79.5" y2="638.4000000000001" stroke="#111" stroke-width="1.2" />
<line x1="72.3" y1="677" x2="80.3" y2="677" stroke="#999" stroke-width="0.7" />
<line x1="73.1" y1="673.8" x2="79.5" y2="680.2" stroke="#111" stroke-width="1.2" />
<text x="74.0" y="298.5" font-size="7.6" text-anchor="middle" font-weight="normal" fill="#333" transform="rotate(-90 74.0 298.5)" >7,44</text>
<text x="74.0" y="439.8" font-size="7.6" text-anchor="middle" font-weight="normal" fill="#333" transform="rotate(-90 74.0 439.8)" >1,66</text>
<text x="74.0" y="510.7" font-size="7.6" text-anchor="middle" font-weight="normal" fill="#333" transform="rotate(-90 74.0 510.7)" >2,89</text>
<text x="74.0" y="595.4" font-size="7.6" text-anchor="middle" font-weight="normal" fill="#333" transform="rotate(-90 74.0 595.4)" >2,50</text>
<text x="74.0" y="655.7" font-size="7.6" text-anchor="middle" font-weight="normal" fill="#333" transform="rotate(-90 74.0 655.7)" >1,35</text>
<text x="82.8" y="669" font-size="7.6" text-anchor="middle" font-weight="normal" fill="#333" transform="rotate(-90 82.8 669)" >30</text>
<line x1="89.2" y1="137" x2="89.2" y2="680" stroke="#666" stroke-width="0.8" />
<line x1="85.2" y1="139.6" x2="93.2" y2="139.6" stroke="#999" stroke-width="0.7" />
<line x1="86.0" y1="136.4" x2="92.4" y2="142.79999999999998" stroke="#111" stroke-width="1.2" />
<line x1="85.2" y1="149.3" x2="93.2" y2="149.3" stroke="#999" stroke-width="0.7" />
<line x1="86.0" y1="146.10000000000002" x2="92.4" y2="152.5" stroke="#111" stroke-width="1.2" />
<line x1="85.2" y1="183" x2="93.2" y2="183" stroke="#999" stroke-width="0.7" />
<line x1="86.0" y1="179.8" x2="92.4" y2="186.2" stroke="#111" stroke-width="1.2" />
<line x1="85.2" y1="191.3" x2="93.2" y2="191.3" stroke="#999" stroke-width="0.7" />
<line x1="86.0" y1="188.10000000000002" x2="92.4" y2="194.5" stroke="#111" stroke-width="1.2" />
<line x1="85.2" y1="400" x2="93.2" y2="400" stroke="#999" stroke-width="0.7" />
<line x1="86.0" y1="396.8" x2="92.4" y2="403.2" stroke="#111" stroke-width="1.2" />
<line x1="85.2" y1="410.4" x2="93.2" y2="410.4" stroke="#999" stroke-width="0.7" />
<line x1="86.0" y1="407.2" x2="92.4" y2="413.59999999999997" stroke="#111" stroke-width="1.2" />
<line x1="85.2" y1="469.3" x2="93.2" y2="469.3" stroke="#999" stroke-width="0.7" />
<line x1="86.0" y1="466.1" x2="92.4" y2="472.5" stroke="#111" stroke-width="1.2" />
<line x1="85.2" y1="478.7" x2="93.2" y2="478.7" stroke="#999" stroke-width="0.7" />
<line x1="86.0" y1="475.5" x2="92.4" y2="481.9" stroke="#111" stroke-width="1.2" />
<line x1="85.2" y1="542.6" x2="93.2" y2="542.6" stroke="#999" stroke-width="0.7" />
<line x1="86.0" y1="539.4" x2="92.4" y2="545.8000000000001" stroke="#111" stroke-width="1.2" />
<line x1="85.2" y1="552" x2="93.2" y2="552" stroke="#999" stroke-width="0.7" />
<line x1="86.0" y1="548.8" x2="92.4" y2="555.2" stroke="#111" stroke-width="1.2" />
<line x1="85.2" y1="621.9" x2="93.2" y2="621.9" stroke="#999" stroke-width="0.7" />
<line x1="86.0" y1="618.6999999999999" x2="92.4" y2="625.1" stroke="#111" stroke-width="1.2" />
<line x1="85.2" y1="630.5" x2="93.2" y2="630.5" stroke="#999" stroke-width="0.7" />
<line x1="86.0" y1="627.3" x2="92.4" y2="633.7" stroke="#111" stroke-width="1.2" />
<line x1="85.2" y1="664.4" x2="93.2" y2="664.4" stroke="#999" stroke-width="0.7" />
<line x1="86.0" y1="661.1999999999999" x2="92.4" y2="667.6" stroke="#111" stroke-width="1.2" />
<line x1="85.2" y1="675" x2="93.2" y2="675" stroke="#999" stroke-width="0.7" />
<line x1="86.0" y1="671.8" x2="92.4" y2="678.2" stroke="#111" stroke-width="1.2" />
<line x1="85.2" y1="677" x2="93.2" y2="677" stroke="#999" stroke-width="0.7" />
<line x1="86.0" y1="673.8" x2="92.4" y2="680.2" stroke="#111" stroke-width="1.2" />
<text x="86.9" y="134" font-size="7.6" text-anchor="middle" font-weight="normal" fill="#333" transform="rotate(-90 86.9 134)" >30</text>
<text x="86.9" y="163.5" font-size="7.6" text-anchor="middle" font-weight="normal" fill="#333" transform="rotate(-90 86.9 163.5)" >1,05</text>
<text x="86.9" y="198" font-size="7.6" text-anchor="middle" font-weight="normal" fill="#333" transform="rotate(-90 86.9 198)" >30</text>
<text x="86.9" y="302.8" font-size="7.6" text-anchor="middle" font-weight="normal" fill="#333" transform="rotate(-90 86.9 302.8)" >6,60</text>
<text x="86.9" y="415.9" font-size="7.6" text-anchor="middle" font-weight="normal" fill="#333" transform="rotate(-90 86.9 415.9)" >30</text>
<text x="86.9" y="443" font-size="7.6" text-anchor="middle" font-weight="normal" fill="#333" transform="rotate(-90 86.9 443)" >1,90</text>
<text x="86.9" y="484.6" font-size="7.6" text-anchor="middle" font-weight="normal" fill="#333" transform="rotate(-90 86.9 484.6)" >30</text>
<text x="86.9" y="515" font-size="7.6" text-anchor="middle" font-weight="normal" fill="#333" transform="rotate(-90 86.9 515)" >2,05</text>
<text x="86.9" y="558.5" font-size="7.6" text-anchor="middle" font-weight="normal" fill="#333" transform="rotate(-90 86.9 558.5)" >30</text>
<text x="86.9" y="583.5" font-size="7.6" text-anchor="middle" font-weight="normal" fill="#333" transform="rotate(-90 86.9 583.5)" >2,20</text>
<text x="86.9" y="615.2" font-size="7.6" text-anchor="middle" font-weight="normal" fill="#333" transform="rotate(-90 86.9 615.2)" >30</text>
<text x="86.9" y="647.1" font-size="7.6" text-anchor="middle" font-weight="normal" fill="#333" transform="rotate(-90 86.9 647.1)" >1,05</text>
<text x="86.9" y="683" font-size="7.6" text-anchor="middle" font-weight="normal" fill="#333" transform="rotate(-90 86.9 683)" >12</text>
<line x1="101.6" y1="137" x2="101.6" y2="680" stroke="#666" stroke-width="0.8" />
<line x1="97.6" y1="139.6" x2="105.6" y2="139.6" stroke="#999" stroke-width="0.7" />
<line x1="98.39999999999999" y1="136.4" x2="104.8" y2="142.79999999999998" stroke="#111" stroke-width="1.2" />
<line x1="97.6" y1="183" x2="105.6" y2="183" stroke="#999" stroke-width="0.7" />
<line x1="98.39999999999999" y1="179.8" x2="104.8" y2="186.2" stroke="#111" stroke-width="1.2" />
<line x1="97.6" y1="221.7" x2="105.6" y2="221.7" stroke="#999" stroke-width="0.7" />
<line x1="98.39999999999999" y1="218.5" x2="104.8" y2="224.89999999999998" stroke="#111" stroke-width="1.2" />
<line x1="97.6" y1="240.7" x2="105.6" y2="240.7" stroke="#999" stroke-width="0.7" />
<line x1="98.39999999999999" y1="237.5" x2="104.8" y2="243.89999999999998" stroke="#111" stroke-width="1.2" />
<line x1="97.6" y1="254.8" x2="105.6" y2="254.8" stroke="#999" stroke-width="0.7" />
<line x1="98.39999999999999" y1="251.60000000000002" x2="104.8" y2="258.0" stroke="#111" stroke-width="1.2" />
<line x1="97.6" y1="269.6" x2="105.6" y2="269.6" stroke="#999" stroke-width="0.7" />
<line x1="98.39999999999999" y1="266.40000000000003" x2="104.8" y2="272.8" stroke="#111" stroke-width="1.2" />
<line x1="97.6" y1="288.7" x2="105.6" y2="288.7" stroke="#999" stroke-width="0.7" />
<line x1="98.39999999999999" y1="285.5" x2="104.8" y2="291.9" stroke="#111" stroke-width="1.2" />
<line x1="97.6" y1="307.2" x2="105.6" y2="307.2" stroke="#999" stroke-width="0.7" />
<line x1="98.39999999999999" y1="304.0" x2="104.8" y2="310.4" stroke="#111" stroke-width="1.2" />
<line x1="97.6" y1="321.3" x2="105.6" y2="321.3" stroke="#999" stroke-width="0.7" />
<line x1="98.39999999999999" y1="318.1" x2="104.8" y2="324.5" stroke="#111" stroke-width="1.2" />
<line x1="97.6" y1="369.1" x2="105.6" y2="369.1" stroke="#999" stroke-width="0.7" />
<line x1="98.39999999999999" y1="365.90000000000003" x2="104.8" y2="372.3" stroke="#111" stroke-width="1.2" />
<line x1="97.6" y1="409.3" x2="105.6" y2="409.3" stroke="#999" stroke-width="0.7" />
<line x1="98.39999999999999" y1="406.1" x2="104.8" y2="412.5" stroke="#111" stroke-width="1.2" />
<line x1="97.6" y1="417" x2="105.6" y2="417" stroke="#999" stroke-width="0.7" />
<line x1="98.39999999999999" y1="413.8" x2="104.8" y2="420.2" stroke="#111" stroke-width="1.2" />
<line x1="97.6" y1="461.7" x2="105.6" y2="461.7" stroke="#999" stroke-width="0.7" />
<line x1="98.39999999999999" y1="458.5" x2="104.8" y2="464.9" stroke="#111" stroke-width="1.2" />
<line x1="97.6" y1="469.3" x2="105.6" y2="469.3" stroke="#999" stroke-width="0.7" />
<line x1="98.39999999999999" y1="466.1" x2="104.8" y2="472.5" stroke="#111" stroke-width="1.2" />
<line x1="97.6" y1="504.8" x2="105.6" y2="504.8" stroke="#999" stroke-width="0.7" />
<line x1="98.39999999999999" y1="501.6" x2="104.8" y2="508.0" stroke="#111" stroke-width="1.2" />
<line x1="97.6" y1="519.3" x2="105.6" y2="519.3" stroke="#999" stroke-width="0.7" />
<line x1="98.39999999999999" y1="516.0999999999999" x2="104.8" y2="522.5" stroke="#111" stroke-width="1.2" />
<line x1="97.6" y1="552.6" x2="105.6" y2="552.6" stroke="#999" stroke-width="0.7" />
<line x1="98.39999999999999" y1="549.4" x2="104.8" y2="555.8000000000001" stroke="#111" stroke-width="1.2" />
<line x1="97.6" y1="601.3" x2="105.6" y2="601.3" stroke="#999" stroke-width="0.7" />
<line x1="98.39999999999999" y1="598.0999999999999" x2="104.8" y2="604.5" stroke="#111" stroke-width="1.2" />
<line x1="97.6" y1="631.2" x2="105.6" y2="631.2" stroke="#999" stroke-width="0.7" />
<line x1="98.39999999999999" y1="628.0" x2="104.8" y2="634.4000000000001" stroke="#111" stroke-width="1.2" />
<line x1="97.6" y1="673.7" x2="105.6" y2="673.7" stroke="#999" stroke-width="0.7" />
<line x1="98.39999999999999" y1="670.5" x2="104.8" y2="676.9000000000001" stroke="#111" stroke-width="1.2" />
<line x1="97.6" y1="676.3" x2="105.6" y2="676.3" stroke="#999" stroke-width="0.7" />
<line x1="98.39999999999999" y1="673.0999999999999" x2="104.8" y2="679.5" stroke="#111" stroke-width="1.2" />
<text x="99.3" y="161" font-size="7.6" text-anchor="middle" font-weight="normal" fill="#333" transform="rotate(-90 99.3 161)" >1,35</text>
<text x="99.3" y="203" font-size="7.6" text-anchor="middle" font-weight="normal" fill="#333" transform="rotate(-90 99.3 203)" >1,25</text>
<text x="99.3" y="231" font-size="7.6" text-anchor="middle" font-weight="normal" fill="#333" transform="rotate(-90 99.3 231)" >60</text>
<text x="99.3" y="248" font-size="7.6" text-anchor="middle" font-weight="normal" fill="#333" transform="rotate(-90 99.3 248)" >45</text>
<text x="99.3" y="262" font-size="7.6" text-anchor="middle" font-weight="normal" fill="#333" transform="rotate(-90 99.3 262)" >60</text>
<text x="99.3" y="279" font-size="7.6" text-anchor="middle" font-weight="normal" fill="#333" transform="rotate(-90 99.3 279)" >45</text>
<text x="99.3" y="298.5" font-size="7.6" text-anchor="middle" font-weight="normal" fill="#333" transform="rotate(-90 99.3 298.5)" >60</text>
<text x="99.3" y="313.7" font-size="7.6" text-anchor="middle" font-weight="normal" fill="#333" transform="rotate(-90 99.3 313.7)" >45</text>
<text x="99.3" y="345.2" font-size="7.6" text-anchor="middle" font-weight="normal" fill="#333" transform="rotate(-90 99.3 345.2)" >1,55</text>
<text x="99.3" y="389.8" font-size="7.6" text-anchor="middle" font-weight="normal" fill="#333" transform="rotate(-90 99.3 389.8)" >1,25</text>
<text x="99.3" y="413" font-size="7.6" text-anchor="middle" font-weight="normal" fill="#333" transform="rotate(-90 99.3 413)" >25</text>
<text x="99.3" y="435.4" font-size="7.6" text-anchor="middle" font-weight="normal" fill="#333" transform="rotate(-90 99.3 435.4)" >1,40</text>
<text x="99.3" y="454" font-size="7.6" text-anchor="middle" font-weight="normal" fill="#333" transform="rotate(-90 99.3 454)" >25</text>
<text x="99.3" y="486.7" font-size="7.6" text-anchor="middle" font-weight="normal" fill="#333" transform="rotate(-90 99.3 486.7)" >1,15</text>
<text x="99.3" y="511.7" font-size="7.6" text-anchor="middle" font-weight="normal" fill="#333" transform="rotate(-90 99.3 511.7)" >45</text>
<text x="99.3" y="535.7" font-size="7.6" text-anchor="middle" font-weight="normal" fill="#333" transform="rotate(-90 99.3 535.7)" >1,05</text>
<text x="99.3" y="575.9" font-size="7.6" text-anchor="middle" font-weight="normal" fill="#333" transform="rotate(-90 99.3 575.9)" >1,55</text>
<text x="99.3" y="616.6" font-size="7.6" text-anchor="middle" font-weight="normal" fill="#333" transform="rotate(-90 99.3 616.6)" >95</text>
<text x="99.3" y="651.8" font-size="7.6" text-anchor="middle" font-weight="normal" fill="#333" transform="rotate(-90 99.3 651.8)" >1,35</text>
<text x="99.3" y="683" font-size="7.6" text-anchor="middle" font-weight="normal" fill="#333" transform="rotate(-90 99.3 683)" >12</text>
<line x1="690.4" y1="134" x2="690.4" y2="680" stroke="#666" stroke-width="0.8" />
<line x1="686.4" y1="136.3" x2="694.4" y2="136.3" stroke="#999" stroke-width="0.7" />
<line x1="687.1999999999999" y1="133.10000000000002" x2="693.6" y2="139.5" stroke="#111" stroke-width="1.2" />
<line x1="686.4" y1="139.6" x2="694.4" y2="139.6" stroke="#999" stroke-width="0.7" />
<line x1="687.1999999999999" y1="136.4" x2="693.6" y2="142.79999999999998" stroke="#111" stroke-width="1.2" />
<line x1="686.4" y1="197.2" x2="694.4" y2="197.2" stroke="#999" stroke-width="0.7" />
<line x1="687.1999999999999" y1="194.0" x2="693.6" y2="200.39999999999998" stroke="#111" stroke-width="1.2" />
<line x1="686.4" y1="209.1" x2="694.4" y2="209.1" stroke="#999" stroke-width="0.7" />
<line x1="687.1999999999999" y1="205.9" x2="693.6" y2="212.29999999999998" stroke="#111" stroke-width="1.2" />
<line x1="686.4" y1="228" x2="694.4" y2="228" stroke="#999" stroke-width="0.7" />
<line x1="687.1999999999999" y1="224.8" x2="693.6" y2="231.2" stroke="#111" stroke-width="1.2" />
<line x1="686.4" y1="240.7" x2="694.4" y2="240.7" stroke="#999" stroke-width="0.7" />
<line x1="687.1999999999999" y1="237.5" x2="693.6" y2="243.89999999999998" stroke="#111" stroke-width="1.2" />
<line x1="686.4" y1="260.2" x2="694.4" y2="260.2" stroke="#999" stroke-width="0.7" />
<line x1="687.1999999999999" y1="257.0" x2="693.6" y2="263.4" stroke="#111" stroke-width="1.2" />
<line x1="686.4" y1="327.4" x2="694.4" y2="327.4" stroke="#999" stroke-width="0.7" />
<line x1="687.1999999999999" y1="324.2" x2="693.6" y2="330.59999999999997" stroke="#111" stroke-width="1.2" />
<line x1="686.4" y1="366.5" x2="694.4" y2="366.5" stroke="#999" stroke-width="0.7" />
<line x1="687.1999999999999" y1="363.3" x2="693.6" y2="369.7" stroke="#111" stroke-width="1.2" />
<line x1="686.4" y1="373.7" x2="694.4" y2="373.7" stroke="#999" stroke-width="0.7" />
<line x1="687.1999999999999" y1="370.5" x2="693.6" y2="376.9" stroke="#111" stroke-width="1.2" />
<line x1="686.4" y1="419.3" x2="694.4" y2="419.3" stroke="#999" stroke-width="0.7" />
<line x1="687.1999999999999" y1="416.1" x2="693.6" y2="422.5" stroke="#111" stroke-width="1.2" />
<line x1="686.4" y1="426.5" x2="694.4" y2="426.5" stroke="#999" stroke-width="0.7" />
<line x1="687.1999999999999" y1="423.3" x2="693.6" y2="429.7" stroke="#111" stroke-width="1.2" />
<line x1="686.4" y1="461.7" x2="694.4" y2="461.7" stroke="#999" stroke-width="0.7" />
<line x1="687.1999999999999" y1="458.5" x2="693.6" y2="464.9" stroke="#111" stroke-width="1.2" />
<line x1="686.4" y1="475" x2="694.4" y2="475" stroke="#999" stroke-width="0.7" />
<line x1="687.1999999999999" y1="471.8" x2="693.6" y2="478.2" stroke="#111" stroke-width="1.2" />
<line x1="686.4" y1="509.8" x2="694.4" y2="509.8" stroke="#999" stroke-width="0.7" />
<line x1="687.1999999999999" y1="506.6" x2="693.6" y2="513.0" stroke="#111" stroke-width="1.2" />
<line x1="686.4" y1="588" x2="694.4" y2="588" stroke="#999" stroke-width="0.7" />
<line x1="687.1999999999999" y1="584.8" x2="693.6" y2="591.2" stroke="#111" stroke-width="1.2" />
<line x1="686.4" y1="631" x2="694.4" y2="631" stroke="#999" stroke-width="0.7" />
<line x1="687.1999999999999" y1="627.8" x2="693.6" y2="634.2" stroke="#111" stroke-width="1.2" />
<line x1="686.4" y1="673.3" x2="694.4" y2="673.3" stroke="#999" stroke-width="0.7" />
<line x1="687.1999999999999" y1="670.0999999999999" x2="693.6" y2="676.5" stroke="#111" stroke-width="1.2" />
<line x1="686.4" y1="676.7" x2="694.4" y2="676.7" stroke="#999" stroke-width="0.7" />
<line x1="687.1999999999999" y1="673.5" x2="693.6" y2="679.9000000000001" stroke="#111" stroke-width="1.2" />
<text x="688.1" y="147.2" font-size="7.6" text-anchor="middle" font-weight="normal" fill="#333" transform="rotate(-90 688.1 147.2)" >12</text>
<text x="688.1" y="166.7" font-size="7.6" text-anchor="middle" font-weight="normal" fill="#333" transform="rotate(-90 688.1 166.7)" >1,80</text>
<text x="688.1" y="190.7" font-size="7.6" text-anchor="middle" font-weight="normal" fill="#333" transform="rotate(-90 688.1 190.7)" >40</text>
<text x="688.1" y="219" font-size="7.6" text-anchor="middle" font-weight="normal" fill="#333" transform="rotate(-90 688.1 219)" >60</text>
<text x="680.6999999999999" y="234" font-size="7.6" text-anchor="middle" font-weight="normal" fill="#333" transform="rotate(-90 680.6999999999999 234)" >40</text>
<text x="688.1" y="252.6" font-size="7.6" text-anchor="middle" font-weight="normal" fill="#333" transform="rotate(-90 688.1 252.6)" >60</text>
<text x="688.1" y="294" font-size="7.6" text-anchor="middle" font-weight="normal" fill="#333" transform="rotate(-90 688.1 294)" >2,15</text>
<text x="688.1" y="347.6" font-size="7.6" text-anchor="middle" font-weight="normal" fill="#333" transform="rotate(-90 688.1 347.6)" >1,25</text>
<text x="680.6999999999999" y="370.4" font-size="7.6" text-anchor="middle" font-weight="normal" fill="#333" transform="rotate(-90 680.6999999999999 370.4)" >25</text>
<text x="688.1" y="392.2" font-size="7.6" text-anchor="middle" font-weight="normal" fill="#333" transform="rotate(-90 688.1 392.2)" >1,40</text>
<text x="688.1" y="415" font-size="7.6" text-anchor="middle" font-weight="normal" fill="#333" transform="rotate(-90 688.1 415)" >25</text>
<text x="688.1" y="444.3" font-size="7.6" text-anchor="middle" font-weight="normal" fill="#333" transform="rotate(-90 688.1 444.3)" >1,12</text>
<text x="680.6999999999999" y="468.5" font-size="7.6" text-anchor="middle" font-weight="normal" fill="#333" transform="rotate(-90 680.6999999999999 468.5)" >40</text>
<text x="688.1" y="491.3" font-size="7.6" text-anchor="middle" font-weight="normal" fill="#333" transform="rotate(-90 688.1 491.3)" >1,12</text>
<text x="688.1" y="549" font-size="7.6" text-anchor="middle" font-weight="normal" fill="#333" transform="rotate(-90 688.1 549)" >2,50</text>
<text x="688.1" y="610" font-size="7.6" text-anchor="middle" font-weight="normal" fill="#333" transform="rotate(-90 688.1 610)" >1,35</text>
<text x="695.9" y="626.8" font-size="7.6" text-anchor="middle" font-weight="normal" fill="#333" transform="rotate(-90 695.9 626.8)" >30</text>
<text x="688.1" y="652.2" font-size="7.6" text-anchor="middle" font-weight="normal" fill="#333" transform="rotate(-90 688.1 652.2)" >1,35</text>
<text x="695.9" y="669" font-size="7.6" text-anchor="middle" font-weight="normal" fill="#333" transform="rotate(-90 695.9 669)" >30</text>
<text x="688.1" y="683.4" font-size="7.6" text-anchor="middle" font-weight="normal" fill="#333" transform="rotate(-90 688.1 683.4)" >12</text>
<line x1="703.5" y1="134" x2="703.5" y2="680" stroke="#666" stroke-width="0.8" />
<line x1="699.5" y1="136.3" x2="707.5" y2="136.3" stroke="#999" stroke-width="0.7" />
<line x1="700.3" y1="133.10000000000002" x2="706.7" y2="139.5" stroke="#111" stroke-width="1.2" />
<line x1="699.5" y1="139.6" x2="707.5" y2="139.6" stroke="#999" stroke-width="0.7" />
<line x1="700.3" y1="136.4" x2="706.7" y2="142.79999999999998" stroke="#111" stroke-width="1.2" />
<line x1="699.5" y1="149.3" x2="707.5" y2="149.3" stroke="#999" stroke-width="0.7" />
<line x1="700.3" y1="146.10000000000002" x2="706.7" y2="152.5" stroke="#111" stroke-width="1.2" />
<line x1="699.5" y1="357.4" x2="707.5" y2="357.4" stroke="#999" stroke-width="0.7" />
<line x1="700.3" y1="354.2" x2="706.7" y2="360.59999999999997" stroke="#111" stroke-width="1.2" />
<line x1="699.5" y1="366.5" x2="707.5" y2="366.5" stroke="#999" stroke-width="0.7" />
<line x1="700.3" y1="363.3" x2="706.7" y2="369.7" stroke="#111" stroke-width="1.2" />
<line x1="699.5" y1="426.5" x2="707.5" y2="426.5" stroke="#999" stroke-width="0.7" />
<line x1="700.3" y1="423.3" x2="706.7" y2="429.7" stroke="#111" stroke-width="1.2" />
<line x1="699.5" y1="435.7" x2="707.5" y2="435.7" stroke="#999" stroke-width="0.7" />
<line x1="700.3" y1="432.5" x2="706.7" y2="438.9" stroke="#111" stroke-width="1.2" />
<line x1="699.5" y1="501" x2="707.5" y2="501" stroke="#999" stroke-width="0.7" />
<line x1="700.3" y1="497.8" x2="706.7" y2="504.2" stroke="#111" stroke-width="1.2" />
<line x1="699.5" y1="509.8" x2="707.5" y2="509.8" stroke="#999" stroke-width="0.7" />
<line x1="700.3" y1="506.6" x2="706.7" y2="513.0" stroke="#111" stroke-width="1.2" />
<line x1="699.5" y1="579.4" x2="707.5" y2="579.4" stroke="#999" stroke-width="0.7" />
<line x1="700.3" y1="576.1999999999999" x2="706.7" y2="582.6" stroke="#111" stroke-width="1.2" />
<line x1="699.5" y1="588.7" x2="707.5" y2="588.7" stroke="#999" stroke-width="0.7" />
<line x1="700.3" y1="585.5" x2="706.7" y2="591.9000000000001" stroke="#111" stroke-width="1.2" />
<line x1="699.5" y1="621.7" x2="707.5" y2="621.7" stroke="#999" stroke-width="0.7" />
<line x1="700.3" y1="618.5" x2="706.7" y2="624.9000000000001" stroke="#111" stroke-width="1.2" />
<line x1="699.5" y1="631" x2="707.5" y2="631" stroke="#999" stroke-width="0.7" />
<line x1="700.3" y1="627.8" x2="706.7" y2="634.2" stroke="#111" stroke-width="1.2" />
<line x1="699.5" y1="664" x2="707.5" y2="664" stroke="#999" stroke-width="0.7" />
<line x1="700.3" y1="660.8" x2="706.7" y2="667.2" stroke="#111" stroke-width="1.2" />
<line x1="699.5" y1="674" x2="707.5" y2="674" stroke="#999" stroke-width="0.7" />
<line x1="700.3" y1="670.8" x2="706.7" y2="677.2" stroke="#111" stroke-width="1.2" />
<line x1="699.5" y1="676.7" x2="707.5" y2="676.7" stroke="#999" stroke-width="0.7" />
<line x1="700.3" y1="673.5" x2="706.7" y2="679.9000000000001" stroke="#111" stroke-width="1.2" />
<text x="701.2" y="128.7" font-size="7.6" text-anchor="middle" font-weight="normal" fill="#333" transform="rotate(-90 701.2 128.7)" >12</text>
<text x="701.2" y="155.9" font-size="7.6" text-anchor="middle" font-weight="normal" fill="#333" transform="rotate(-90 701.2 155.9)" >30</text>
<text x="701.2" y="258" font-size="7.6" text-anchor="middle" font-weight="normal" fill="#333" transform="rotate(-90 701.2 258)" >6,60</text>
<text x="701.2" y="371.5" font-size="7.6" text-anchor="middle" font-weight="normal" fill="#333" transform="rotate(-90 701.2 371.5)" >30</text>
<text x="701.2" y="397.6" font-size="7.6" text-anchor="middle" font-weight="normal" fill="#333" transform="rotate(-90 701.2 397.6)" >90</text>
<text x="701.2" y="442.2" font-size="7.6" text-anchor="middle" font-weight="normal" fill="#333" transform="rotate(-90 701.2 442.2)" >30</text>
<text x="701.2" y="470.7" font-size="7.6" text-anchor="middle" font-weight="normal" fill="#333" transform="rotate(-90 701.2 470.7)" >2,05</text>
<text x="701.2" y="516.3" font-size="7.6" text-anchor="middle" font-weight="normal" fill="#333" transform="rotate(-90 701.2 516.3)" >30</text>
<text x="701.2" y="544.6" font-size="7.6" text-anchor="middle" font-weight="normal" fill="#333" transform="rotate(-90 701.2 544.6)" >2,20</text>
<text x="701.2" y="571.8" font-size="7.6" text-anchor="middle" font-weight="normal" fill="#333" transform="rotate(-90 701.2 571.8)" >30</text>
<text x="701.2" y="604.8" font-size="7.6" text-anchor="middle" font-weight="normal" fill="#333" transform="rotate(-90 701.2 604.8)" >1,05</text>
<text x="701.2" y="648" font-size="7.6" text-anchor="middle" font-weight="normal" fill="#333" transform="rotate(-90 701.2 648)" >1,05</text>
<text x="701.2" y="683.4" font-size="7.6" text-anchor="middle" font-weight="normal" fill="#333" transform="rotate(-90 701.2 683.4)" >12</text>
<line x1="716.1" y1="134" x2="716.1" y2="680" stroke="#666" stroke-width="0.8" />
<line x1="712.1" y1="136.3" x2="720.1" y2="136.3" stroke="#999" stroke-width="0.7" />
<line x1="712.9" y1="133.10000000000002" x2="719.3000000000001" y2="139.5" stroke="#111" stroke-width="1.2" />
<line x1="712.1" y1="370.4" x2="720.1" y2="370.4" stroke="#999" stroke-width="0.7" />
<line x1="712.9" y1="367.2" x2="719.3000000000001" y2="373.59999999999997" stroke="#111" stroke-width="1.2" />
<line x1="712.1" y1="422.6" x2="720.1" y2="422.6" stroke="#999" stroke-width="0.7" />
<line x1="712.9" y1="419.40000000000003" x2="719.3000000000001" y2="425.8" stroke="#111" stroke-width="1.2" />
<line x1="712.1" y1="514.1" x2="720.1" y2="514.1" stroke="#999" stroke-width="0.7" />
<line x1="712.9" y1="510.90000000000003" x2="719.3000000000001" y2="517.3000000000001" stroke="#111" stroke-width="1.2" />
<line x1="712.1" y1="592.1" x2="720.1" y2="592.1" stroke="#999" stroke-width="0.7" />
<line x1="712.9" y1="588.9" x2="719.3000000000001" y2="595.3000000000001" stroke="#111" stroke-width="1.2" />
<line x1="712.1" y1="634.4" x2="720.1" y2="634.4" stroke="#999" stroke-width="0.7" />
<line x1="712.9" y1="631.1999999999999" x2="719.3000000000001" y2="637.6" stroke="#111" stroke-width="1.2" />
<line x1="712.1" y1="677.5" x2="720.1" y2="677.5" stroke="#999" stroke-width="0.7" />
<line x1="712.9" y1="674.3" x2="719.3000000000001" y2="680.7" stroke="#111" stroke-width="1.2" />
<text x="713.8000000000001" y="253.7" font-size="7.6" text-anchor="middle" font-weight="normal" fill="#333" transform="rotate(-90 713.8000000000001 253.7)" >7,44</text>
<text x="713.8000000000001" y="394.3" font-size="7.6" text-anchor="middle" font-weight="normal" fill="#333" transform="rotate(-90 713.8000000000001 394.3)" >1,66</text>
<text x="713.8000000000001" y="468.5" font-size="7.6" text-anchor="middle" font-weight="normal" fill="#333" transform="rotate(-90 713.8000000000001 468.5)" >2,89</text>
<text x="713.8000000000001" y="552.2" font-size="7.6" text-anchor="middle" font-weight="normal" fill="#333" transform="rotate(-90 713.8000000000001 552.2)" >2,50</text>
<text x="713.8000000000001" y="614" font-size="7.6" text-anchor="middle" font-weight="normal" fill="#333" transform="rotate(-90 713.8000000000001 614)" >1,35</text>
<text x="713.8000000000001" y="655.5" font-size="7.6" text-anchor="middle" font-weight="normal" fill="#333" transform="rotate(-90 713.8000000000001 655.5)" >1,35</text>
<line x1="728.5" y1="134" x2="728.5" y2="828" stroke="#666" stroke-width="0.8" />
<line x1="724.5" y1="136.3" x2="732.5" y2="136.3" stroke="#999" stroke-width="0.7" />
<line x1="725.3" y1="133.10000000000002" x2="731.7" y2="139.5" stroke="#111" stroke-width="1.2" />
<line x1="724.5" y1="677.5" x2="732.5" y2="677.5" stroke="#999" stroke-width="0.7" />
<line x1="725.3" y1="674.3" x2="731.7" y2="680.7" stroke="#111" stroke-width="1.2" />
<text x="726.2" y="405.2" font-size="7.6" text-anchor="middle" font-weight="normal" fill="#333" transform="rotate(-90 726.2 405.2)" >17,19</text>
<text x="726.2" y="763.6" font-size="7.6" text-anchor="middle" font-weight="normal" fill="#333" transform="rotate(-90 726.2 763.6)" >5,50</text>
<line x1="158" y1="730.2" x2="633" y2="730.2" stroke="#666" stroke-width="0.8" />
<line x1="159.9" y1="726.2" x2="159.9" y2="734.2" stroke="#999" stroke-width="0.7" />
<line x1="156.70000000000002" y1="733.4000000000001" x2="163.1" y2="727.0" stroke="#111" stroke-width="1.2" />
<line x1="163.2" y1="726.2" x2="163.2" y2="734.2" stroke="#999" stroke-width="0.7" />
<line x1="160.0" y1="733.4000000000001" x2="166.39999999999998" y2="727.0" stroke="#111" stroke-width="1.2" />
<line x1="197.6" y1="726.2" x2="197.6" y2="734.2" stroke="#999" stroke-width="0.7" />
<line x1="194.4" y1="733.4000000000001" x2="200.79999999999998" y2="727.0" stroke="#111" stroke-width="1.2" />
<line x1="237.4" y1="726.2" x2="237.4" y2="734.2" stroke="#999" stroke-width="0.7" />
<line x1="234.20000000000002" y1="733.4000000000001" x2="240.6" y2="727.0" stroke="#111" stroke-width="1.2" />
<line x1="282.8" y1="726.2" x2="282.8" y2="734.2" stroke="#999" stroke-width="0.7" />
<line x1="279.6" y1="733.4000000000001" x2="286.0" y2="727.0" stroke="#111" stroke-width="1.2" />
<line x1="301.8" y1="726.2" x2="301.8" y2="734.2" stroke="#999" stroke-width="0.7" />
<line x1="298.6" y1="733.4000000000001" x2="305.0" y2="727.0" stroke="#111" stroke-width="1.2" />
<line x1="374" y1="726.2" x2="374" y2="734.2" stroke="#999" stroke-width="0.7" />
<line x1="370.8" y1="733.4000000000001" x2="377.2" y2="727.0" stroke="#111" stroke-width="1.2" />
<line x1="396.2" y1="726.2" x2="396.2" y2="734.2" stroke="#999" stroke-width="0.7" />
<line x1="393.0" y1="733.4000000000001" x2="399.4" y2="727.0" stroke="#111" stroke-width="1.2" />
<line x1="416" y1="726.2" x2="416" y2="734.2" stroke="#999" stroke-width="0.7" />
<line x1="412.8" y1="733.4000000000001" x2="419.2" y2="727.0" stroke="#111" stroke-width="1.2" />
<line x1="486.9" y1="726.2" x2="486.9" y2="734.2" stroke="#999" stroke-width="0.7" />
<line x1="483.7" y1="733.4000000000001" x2="490.09999999999997" y2="727.0" stroke="#111" stroke-width="1.2" />
<line x1="506.9" y1="726.2" x2="506.9" y2="734.2" stroke="#999" stroke-width="0.7" />
<line x1="503.7" y1="733.4000000000001" x2="510.09999999999997" y2="727.0" stroke="#111" stroke-width="1.2" />
<line x1="552.6" y1="726.2" x2="552.6" y2="734.2" stroke="#999" stroke-width="0.7" />
<line x1="549.4" y1="733.4000000000001" x2="555.8000000000001" y2="727.0" stroke="#111" stroke-width="1.2" />
<line x1="591.7" y1="726.2" x2="591.7" y2="734.2" stroke="#999" stroke-width="0.7" />
<line x1="588.5" y1="733.4000000000001" x2="594.9000000000001" y2="727.0" stroke="#111" stroke-width="1.2" />
<line x1="626.7" y1="726.2" x2="626.7" y2="734.2" stroke="#999" stroke-width="0.7" />
<line x1="623.5" y1="733.4000000000001" x2="629.9000000000001" y2="727.0" stroke="#111" stroke-width="1.2" />
<line x1="630.3" y1="726.2" x2="630.3" y2="734.2" stroke="#999" stroke-width="0.7" />
<line x1="627.0999999999999" y1="733.4000000000001" x2="633.5" y2="727.0" stroke="#111" stroke-width="1.2" />
<text x="157" y="728.9000000000001" font-size="7.6" text-anchor="end" font-weight="normal" fill="#333" >12</text>
<text x="180.2" y="728.9000000000001" font-size="7.6" text-anchor="middle" font-weight="normal" fill="#333" >1,10</text>
<text x="217.3" y="728.9000000000001" font-size="7.6" text-anchor="middle" font-weight="normal" fill="#333" >1,25</text>
<text x="259.6" y="728.9000000000001" font-size="7.6" text-anchor="middle" font-weight="normal" fill="#333" >1,45</text>
<text x="292.3" y="728.9000000000001" font-size="7.6" text-anchor="middle" font-weight="normal" fill="#333" >63</text>
<text x="337.4" y="728.9000000000001" font-size="7.6" text-anchor="middle" font-weight="normal" fill="#333" >2,25</text>
<text x="384.4" y="728.9000000000001" font-size="7.6" text-anchor="middle" font-weight="normal" fill="#333" >73</text>
<text x="405.9" y="728.9000000000001" font-size="7.6" text-anchor="middle" font-weight="normal" fill="#333" >63</text>
<text x="451" y="728.9000000000001" font-size="7.6" text-anchor="middle" font-weight="normal" fill="#333" >2,25</text>
<text x="496.4" y="728.9000000000001" font-size="7.6" text-anchor="middle" font-weight="normal" fill="#333" >63</text>
<text x="529.8" y="728.9000000000001" font-size="7.6" text-anchor="middle" font-weight="normal" fill="#333" >1,45</text>
<text x="571.7" y="728.9000000000001" font-size="7.6" text-anchor="middle" font-weight="normal" fill="#333" >1,25</text>
<text x="609.2" y="728.9000000000001" font-size="7.6" text-anchor="middle" font-weight="normal" fill="#333" >1,10</text>
<text x="633" y="728.9000000000001" font-size="7.6" text-anchor="start" font-weight="normal" fill="#333" >12</text>
<line x1="158" y1="743.6" x2="633" y2="743.6" stroke="#666" stroke-width="0.8" />
<line x1="159.9" y1="739.6" x2="159.9" y2="747.6" stroke="#999" stroke-width="0.7" />
<line x1="156.70000000000002" y1="746.8000000000001" x2="163.1" y2="740.4" stroke="#111" stroke-width="1.2" />
<line x1="163.2" y1="739.6" x2="163.2" y2="747.6" stroke="#999" stroke-width="0.7" />
<line x1="160.0" y1="746.8000000000001" x2="166.39999999999998" y2="740.4" stroke="#111" stroke-width="1.2" />
<line x1="172.9" y1="739.6" x2="172.9" y2="747.6" stroke="#999" stroke-width="0.7" />
<line x1="169.70000000000002" y1="746.8000000000001" x2="176.1" y2="740.4" stroke="#111" stroke-width="1.2" />
<line x1="197.6" y1="739.6" x2="197.6" y2="747.6" stroke="#999" stroke-width="0.7" />
<line x1="194.4" y1="746.8000000000001" x2="200.79999999999998" y2="740.4" stroke="#111" stroke-width="1.2" />
<line x1="207.2" y1="739.6" x2="207.2" y2="747.6" stroke="#999" stroke-width="0.7" />
<line x1="204.0" y1="746.8000000000001" x2="210.39999999999998" y2="740.4" stroke="#111" stroke-width="1.2" />
<line x1="282.8" y1="739.6" x2="282.8" y2="747.6" stroke="#999" stroke-width="0.7" />
<line x1="279.6" y1="746.8000000000001" x2="286.0" y2="740.4" stroke="#111" stroke-width="1.2" />
<line x1="292.3" y1="739.6" x2="292.3" y2="747.6" stroke="#999" stroke-width="0.7" />
<line x1="289.1" y1="746.8000000000001" x2="295.5" y2="740.4" stroke="#111" stroke-width="1.2" />
<line x1="386.7" y1="739.6" x2="386.7" y2="747.6" stroke="#999" stroke-width="0.7" />
<line x1="383.5" y1="746.8000000000001" x2="389.9" y2="740.4" stroke="#111" stroke-width="1.2" />
<line x1="396.2" y1="739.6" x2="396.2" y2="747.6" stroke="#999" stroke-width="0.7" />
<line x1="393.0" y1="746.8000000000001" x2="399.4" y2="740.4" stroke="#111" stroke-width="1.2" />
<line x1="498" y1="739.6" x2="498" y2="747.6" stroke="#999" stroke-width="0.7" />
<line x1="494.8" y1="746.8000000000001" x2="501.2" y2="740.4" stroke="#111" stroke-width="1.2" />
<line x1="506.9" y1="739.6" x2="506.9" y2="747.6" stroke="#999" stroke-width="0.7" />
<line x1="503.7" y1="746.8000000000001" x2="510.09999999999997" y2="740.4" stroke="#111" stroke-width="1.2" />
<line x1="582.2" y1="739.6" x2="582.2" y2="747.6" stroke="#999" stroke-width="0.7" />
<line x1="579.0" y1="746.8000000000001" x2="585.4000000000001" y2="740.4" stroke="#111" stroke-width="1.2" />
<line x1="591.7" y1="739.6" x2="591.7" y2="747.6" stroke="#999" stroke-width="0.7" />
<line x1="588.5" y1="746.8000000000001" x2="594.9000000000001" y2="740.4" stroke="#111" stroke-width="1.2" />
<line x1="616.2" y1="739.6" x2="616.2" y2="747.6" stroke="#999" stroke-width="0.7" />
<line x1="613.0" y1="746.8000000000001" x2="619.4000000000001" y2="740.4" stroke="#111" stroke-width="1.2" />
<line x1="626.7" y1="739.6" x2="626.7" y2="747.6" stroke="#999" stroke-width="0.7" />
<line x1="623.5" y1="746.8000000000001" x2="629.9000000000001" y2="740.4" stroke="#111" stroke-width="1.2" />
<line x1="630.3" y1="739.6" x2="630.3" y2="747.6" stroke="#999" stroke-width="0.7" />
<line x1="627.0999999999999" y1="746.8000000000001" x2="633.5" y2="740.4" stroke="#111" stroke-width="1.2" />
<text x="159" y="733.1" font-size="7.6" text-anchor="end" font-weight="normal" fill="#333" >12</text>
<text x="169.7" y="733.1" font-size="7.6" text-anchor="middle" font-weight="normal" fill="#333" >30</text>
<text x="185" y="742.3000000000001" font-size="7.6" text-anchor="middle" font-weight="normal" fill="#333" >80</text>
<text x="213.5" y="742.3000000000001" font-size="7.6" text-anchor="middle" font-weight="normal" fill="#333" >30</text>
<text x="245.3" y="742.3000000000001" font-size="7.6" text-anchor="middle" font-weight="normal" fill="#333" >2,40</text>
<text x="276.4" y="742.3000000000001" font-size="7.6" text-anchor="middle" font-weight="normal" fill="#333" >30</text>
<text x="335.8" y="742.3000000000001" font-size="7.6" text-anchor="middle" font-weight="normal" fill="#333" >3,00</text>
<text x="379.4" y="742.3000000000001" font-size="7.6" text-anchor="middle" font-weight="normal" fill="#333" >30</text>
<text x="442.4" y="742.3000000000001" font-size="7.6" text-anchor="middle" font-weight="normal" fill="#333" >3,20</text>
<text x="490" y="742.3000000000001" font-size="7.6" text-anchor="middle" font-weight="normal" fill="#333" >30</text>
<text x="539.3" y="742.3000000000001" font-size="7.6" text-anchor="middle" font-weight="normal" fill="#333" >2,40</text>
<text x="575.8" y="742.3000000000001" font-size="7.6" text-anchor="middle" font-weight="normal" fill="#333" >30</text>
<text x="603.5" y="742.3000000000001" font-size="7.6" text-anchor="middle" font-weight="normal" fill="#333" >80</text>
<text x="621.3" y="733.1" font-size="7.6" text-anchor="middle" font-weight="normal" fill="#333" >30</text>
<text x="633" y="742.3000000000001" font-size="7.6" text-anchor="start" font-weight="normal" fill="#333" >12</text>
<line x1="158" y1="755.7" x2="633" y2="755.7" stroke="#666" stroke-width="0.8" />
<line x1="159.9" y1="751.7" x2="159.9" y2="759.7" stroke="#999" stroke-width="0.7" />
<line x1="156.70000000000002" y1="758.9000000000001" x2="163.1" y2="752.5" stroke="#111" stroke-width="1.2" />
<line x1="193.8" y1="751.7" x2="193.8" y2="759.7" stroke="#999" stroke-width="0.7" />
<line x1="190.60000000000002" y1="758.9000000000001" x2="197.0" y2="752.5" stroke="#111" stroke-width="1.2" />
<line x1="278.7" y1="751.7" x2="278.7" y2="759.7" stroke="#999" stroke-width="0.7" />
<line x1="275.5" y1="758.9000000000001" x2="281.9" y2="752.5" stroke="#111" stroke-width="1.2" />
<line x1="394.6" y1="751.7" x2="394.6" y2="759.7" stroke="#999" stroke-width="0.7" />
<line x1="391.40000000000003" y1="758.9000000000001" x2="397.8" y2="752.5" stroke="#111" stroke-width="1.2" />
<line x1="510" y1="751.7" x2="510" y2="759.7" stroke="#999" stroke-width="0.7" />
<line x1="506.8" y1="758.9000000000001" x2="513.2" y2="752.5" stroke="#111" stroke-width="1.2" />
<line x1="594.9" y1="751.7" x2="594.9" y2="759.7" stroke="#999" stroke-width="0.7" />
<line x1="591.6999999999999" y1="758.9000000000001" x2="598.1" y2="752.5" stroke="#111" stroke-width="1.2" />
<line x1="630.3" y1="751.7" x2="630.3" y2="759.7" stroke="#999" stroke-width="0.7" />
<line x1="627.0999999999999" y1="758.9000000000001" x2="633.5" y2="752.5" stroke="#111" stroke-width="1.2" />
<text x="177" y="754.4000000000001" font-size="7.6" text-anchor="middle" font-weight="normal" fill="#333" >1,10</text>
<text x="236.4" y="754.4000000000001" font-size="7.6" text-anchor="middle" font-weight="normal" fill="#333" >2,70</text>
<text x="337.4" y="754.4000000000001" font-size="7.6" text-anchor="middle" font-weight="normal" fill="#333" >3,67</text>
<text x="452" y="754.4000000000001" font-size="7.6" text-anchor="middle" font-weight="normal" fill="#333" >3,67</text>
<text x="552" y="754.4000000000001" font-size="7.6" text-anchor="middle" font-weight="normal" fill="#333" >2,70</text>
<text x="612.4" y="754.4000000000001" font-size="7.6" text-anchor="middle" font-weight="normal" fill="#333" >1,10</text>
<line x1="158" y1="768.4" x2="633" y2="768.4" stroke="#666" stroke-width="0.8" />
<line x1="159.9" y1="764.4" x2="159.9" y2="772.4" stroke="#999" stroke-width="0.7" />
<line x1="156.70000000000002" y1="771.6" x2="163.1" y2="765.1999999999999" stroke="#111" stroke-width="1.2" />
<line x1="630.3" y1="764.4" x2="630.3" y2="772.4" stroke="#999" stroke-width="0.7" />
<line x1="627.0999999999999" y1="771.6" x2="633.5" y2="765.1999999999999" stroke="#111" stroke-width="1.2" />
<text x="395" y="763.8" font-size="7.6" text-anchor="middle" font-weight="normal" fill="#333" >14,94</text>
<line x1="298.9" y1="715.3" x2="298.9" y2="828" stroke="#666" stroke-width="0.8" />
<line x1="490.5" y1="673.1" x2="490.5" y2="828" stroke="#666" stroke-width="0.8" />
<rect x="195.6" y="222.2" width="28.700000000000017" height="75.0" fill="none" stroke="#5a5a5a" stroke-width="1" />
<line x1="195.6" y1="227.2" x2="224.3" y2="227.2" stroke="#5a5a5a" stroke-width="0.9" />
<line x1="195.6" y1="292.2" x2="224.3" y2="292.2" stroke="#5a5a5a" stroke-width="0.9" />
<line x1="200.6" y1="227.2" x2="200.6" y2="292.2" stroke="#5a5a5a" stroke-width="0.9" />
<line x1="200.6" y1="248.86666666666665" x2="224.3" y2="248.86666666666665" stroke="#5a5a5a" stroke-width="0.9" />
<line x1="200.6" y1="270.5333333333333" x2="224.3" y2="270.5333333333333" stroke="#5a5a5a" stroke-width="0.9" />
<rect x="232" y="241" width="18.8" height="38" fill="none" stroke="#5a5a5a" stroke-width="0.9" />
<rect x="258.4" y="230.5" width="25.400000000000034" height="26.100000000000023" fill="none" stroke="#5a5a5a" stroke-width="1" />
<line x1="258.4" y1="235.1" x2="283.8" y2="235.1" stroke="#5a5a5a" stroke-width="0.9" />
<line x1="258.4" y1="252.00000000000003" x2="283.8" y2="252.00000000000003" stroke="#5a5a5a" stroke-width="0.9" />
<line x1="279.2" y1="235.1" x2="279.2" y2="252.00000000000003" stroke="#5a5a5a" stroke-width="0.9" />
<rect x="258.4" y="264" width="25.400000000000034" height="25.600000000000023" fill="none" stroke="#5a5a5a" stroke-width="1" />
<line x1="258.4" y1="268.6" x2="283.8" y2="268.6" stroke="#5a5a5a" stroke-width="0.9" />
<line x1="258.4" y1="285.0" x2="283.8" y2="285.0" stroke="#5a5a5a" stroke-width="0.9" />
<line x1="279.2" y1="268.6" x2="279.2" y2="285.0" stroke="#5a5a5a" stroke-width="0.9" />
<rect x="374.6" y="222.2" width="11.6" height="75" fill="none" stroke="#5a5a5a" stroke-width="0.9" />
<text x="304.3" y="248.5" font-size="8.5" text-anchor="middle" font-weight="bold" fill="#222" >NAPPALI</text>
<text x="304.3" y="257.5" font-size="7.6" text-anchor="middle" font-weight="normal" fill="#333" >lapburkolat</text>
<text x="304.3" y="266.1" font-size="7.6" text-anchor="middle" font-weight="normal" fill="#333" >29,24 m²</text>
<text x="308.6" y="206" font-size="7.6" text-anchor="start" font-weight="normal" fill="#333" >+0,15</text>
<circle cx="299.6" cy="213" r="6.1" fill="#fff"/>
<g stroke="#888" fill="none" stroke-width="1.1"><circle cx="299.6" cy="213" r="3.9"/><line x1="291.40000000000003" y1="213" x2="307.8" y2="213"/><line x1="299.6" y1="204.8" x2="299.6" y2="221.2"/></g><path d="M299.6,209.1 A3.9,3.9 0 0,0 295.70000000000005,213 L299.6,213 Z" fill="#888"/><path d="M299.6,216.9 A3.9,3.9 0 0,0 303.5,213 L299.6,213 Z" fill="#888"/>
<polygon points="173.4,327.6 254.4,327.6 254.4,346.4 190.2,346.4 190.2,380.7 254.4,380.7 254.4,400.3 173.4,400.3" fill="none" stroke="#5a5a5a" stroke-width="0.9" />
<line x1="254.4" y1="327.6" x2="386" y2="327.6" stroke="#999" stroke-width="0.9" stroke-dasharray="4 2"/>
<text x="223" y="356.6" font-size="8.5" text-anchor="middle" font-weight="bold" fill="#222" >KONYHA-ÉTKEZŐ</text>
<text x="223" y="365.6" font-size="7.6" text-anchor="middle" font-weight="normal" fill="#333" >lapburk.</text>
<text x="223" y="374.20000000000005" font-size="7.6" text-anchor="middle" font-weight="normal" fill="#333" >15,64 m²</text>
<rect x="308.1" y="346.1" width="57.39999999999998" height="29.0" fill="none" stroke="#5a5a5a" stroke-width="0.9" />
<rect x="311.1" y="330.40000000000003" width="13.3" height="15.7" fill="none" stroke="#5a5a5a" stroke-width="1" />
<line x1="311.1" y1="331.70000000000005" x2="324.40000000000003" y2="331.70000000000005" stroke="#5a5a5a" stroke-width="1.2" />
<rect x="311.1" y="375.1" width="13.3" height="15.7" fill="none" stroke="#5a5a5a" stroke-width="1" />
<line x1="311.1" y1="389.5" x2="324.40000000000003" y2="389.5" stroke="#5a5a5a" stroke-width="1.2" />
<rect x="330.2" y="330.40000000000003" width="13.3" height="15.7" fill="none" stroke="#5a5a5a" stroke-width="1" />
<line x1="330.2" y1="331.70000000000005" x2="343.5" y2="331.70000000000005" stroke="#5a5a5a" stroke-width="1.2" />
<rect x="330.2" y="375.1" width="13.3" height="15.7" fill="none" stroke="#5a5a5a" stroke-width="1" />
<line x1="330.2" y1="389.5" x2="343.5" y2="389.5" stroke="#5a5a5a" stroke-width="1.2" />
<rect x="349.2" y="330.40000000000003" width="13.3" height="15.7" fill="none" stroke="#5a5a5a" stroke-width="1" />
<line x1="349.2" y1="331.70000000000005" x2="362.5" y2="331.70000000000005" stroke="#5a5a5a" stroke-width="1.2" />
<rect x="349.2" y="375.1" width="13.3" height="15.7" fill="none" stroke="#5a5a5a" stroke-width="1" />
<line x1="349.2" y1="389.5" x2="362.5" y2="389.5" stroke="#5a5a5a" stroke-width="1.2" />
<rect x="292.40000000000003" y="353.95000000000005" width="15.7" height="13.3" fill="none" stroke="#5a5a5a" stroke-width="1" />
<line x1="293.70000000000005" y1="353.95000000000005" x2="293.70000000000005" y2="367.25000000000006" stroke="#5a5a5a" stroke-width="1.2" />
<rect x="365.5" y="353.95000000000005" width="15.7" height="13.3" fill="none" stroke="#5a5a5a" stroke-width="1" />
<line x1="379.9" y1="353.95000000000005" x2="379.9" y2="367.25000000000006" stroke="#5a5a5a" stroke-width="1.2" />
<line x1="293.4" y1="407.9" x2="293.4" y2="437.6" stroke="#666" stroke-width="0.8" />
<line x1="302.5" y1="407.9" x2="302.5" y2="437.6" stroke="#666" stroke-width="0.8" />
<line x1="310.9" y1="407.9" x2="310.9" y2="437.6" stroke="#666" stroke-width="0.8" />
<line x1="319.7" y1="407.9" x2="319.7" y2="437.6" stroke="#666" stroke-width="0.8" />
<line x1="328.3" y1="407.9" x2="328.3" y2="437.6" stroke="#666" stroke-width="0.8" />
<line x1="336.7" y1="407.9" x2="336.7" y2="437.6" stroke="#666" stroke-width="0.8" />
<line x1="345.1" y1="407.9" x2="345.1" y2="437.6" stroke="#666" stroke-width="0.8" />
<line x1="293.4" y1="437.6" x2="345.1" y2="437.6" stroke="#666" stroke-width="0.8" />
<polyline points="324.1,409 331.1,427.1 340.9,409" fill="none" stroke="#666" stroke-width="0.8" />
<circle cx="293.4" cy="423" r="1.8" fill="none" stroke="#666" stroke-width="0.8"/>
<line x1="295.2" y1="423" x2="371" y2="423" stroke="#666" stroke-width="0.7" />
<path d="M285,440.4 H371 V423 M285,456.5 H371 V440" fill="none" stroke="#666" stroke-width="0.8" stroke-dasharray="3 2"/>
<line x1="302.5" y1="440.4" x2="302.5" y2="471" stroke="#888" stroke-width="0.8" stroke-dasharray="3 2"/>
<line x1="310.9" y1="440.4" x2="310.9" y2="471" stroke="#888" stroke-width="0.8" stroke-dasharray="3 2"/>
<line x1="319.7" y1="440.4" x2="319.7" y2="471" stroke="#888" stroke-width="0.8" stroke-dasharray="3 2"/>
<line x1="328.3" y1="440.4" x2="328.3" y2="471" stroke="#888" stroke-width="0.8" stroke-dasharray="3 2"/>
<line x1="336.7" y1="440.4" x2="336.7" y2="471" stroke="#888" stroke-width="0.8" stroke-dasharray="3 2"/>
<line x1="345.1" y1="440.4" x2="345.1" y2="471" stroke="#888" stroke-width="0.8" stroke-dasharray="3 2"/>
<line x1="353.5" y1="440.4" x2="353.5" y2="471" stroke="#888" stroke-width="0.8" stroke-dasharray="3 2"/>
<text x="335.3" y="427.4" font-size="8.5" text-anchor="middle" font-weight="bold" fill="#222" >LÉPCSŐ</text>
<text x="335.3" y="436.4" font-size="7.6" text-anchor="middle" font-weight="normal" fill="#333" >lapburk.</text>
<text x="335.3" y="445.0" font-size="7.6" text-anchor="middle" font-weight="normal" fill="#333" >5,95 m²</text>
<line x1="283" y1="459" x2="388" y2="459" stroke="#666" stroke-width="0.8" />
<line x1="285" y1="455" x2="285" y2="463" stroke="#999" stroke-width="0.7" />
<line x1="281.8" y1="462.2" x2="288.2" y2="455.8" stroke="#111" stroke-width="1.2" />
<line x1="386.5" y1="455" x2="386.5" y2="463" stroke="#999" stroke-width="0.7" />
<line x1="383.3" y1="462.2" x2="389.7" y2="455.8" stroke="#111" stroke-width="1.2" />
<text x="297.2" y="457.6" font-size="7.6" text-anchor="middle" font-weight="normal" fill="#333" >5,70</text>
<text x="241.5" y="434.5" font-size="8.5" text-anchor="middle" font-weight="bold" fill="#222" >ELŐTÉR</text>
<text x="241.5" y="443.5" font-size="7.6" text-anchor="middle" font-weight="normal" fill="#333" >lapburk.</text>
<text x="241.5" y="452.1" font-size="7.6" text-anchor="middle" font-weight="normal" fill="#333" >6,45 m²</text>
<text x="236" y="414.5" font-size="7.6" text-anchor="start" font-weight="normal" fill="#333" >+0,15</text>
<circle cx="224" cy="422" r="6.1" fill="#fff"/>
<g stroke="#888" fill="none" stroke-width="1.1"><circle cx="224" cy="422" r="3.9"/><line x1="215.8" y1="422" x2="232.2" y2="422"/><line x1="224" y1="413.8" x2="224" y2="430.2"/></g><path d="M224,418.1 A3.9,3.9 0 0,0 220.1,422 L224,422 Z" fill="#888"/><path d="M224,425.9 A3.9,3.9 0 0,0 227.9,422 L224,422 Z" fill="#888"/>
<line x1="197.7" y1="459.3" x2="228.6" y2="459.3" stroke="#666" stroke-width="0.9"/>
<path d="M228.6,459.3 A31,31 0 0,0 197.7,428.3" fill="none" stroke="#666" stroke-width="0.8"/>
<line x1="206.8" y1="416.3" x2="206.8" y2="462.6" stroke="#666" stroke-width="0.8" stroke-dasharray="3 2"/>
<text x="204.6" y="493.4" font-size="8.5" text-anchor="middle" font-weight="bold" fill="#222" >ZUH.-WC</text>
<text x="204.6" y="502.4" font-size="7.6" text-anchor="middle" font-weight="normal" fill="#333" >lapb.</text>
<text x="204.6" y="511.0" font-size="7.6" text-anchor="middle" font-weight="normal" fill="#333" >4,71 m²</text>
<text x="204.6" y="519.6" font-size="7.6" text-anchor="middle" font-weight="normal" fill="#333" >2,30</text>
<rect x="179.5" y="479.5" width="16" height="9.7" fill="none" stroke="#5a5a5a" stroke-width="0.9" />
<ellipse cx="187.5" cy="484.8" rx="5.5" ry="3.2" fill="none" stroke="#777" stroke-width="0.8"/>
<rect x="182.5" y="538.5" width="11" height="3.5" fill="none" stroke="#777" stroke-width="0.8"/><ellipse cx="187.9" cy="530" rx="5.5" ry="7.5" fill="none" stroke="#777" stroke-width="0.8"/>
<rect x="217.2" y="515" width="27.2" height="27.4" fill="none" stroke="#5a5a5a" stroke-width="0.9" />
<rect x="219.2" y="517" width="23.2" height="23.4" fill="none" stroke="#5a5a5a" stroke-width="0.7" />
<line x1="221" y1="538.5" x2="240" y2="519" stroke="#5a5a5a" stroke-width="0.8" />
<text x="261.5" y="494" font-size="8.5" text-anchor="middle" font-weight="bold" fill="#222" >KÖZL.</text>
<text x="261.5" y="503" font-size="7.6" text-anchor="middle" font-weight="normal" fill="#333" >lapburk.</text>
<text x="261.5" y="511.6" font-size="7.6" text-anchor="middle" font-weight="normal" fill="#333" >2,10 m²</text>
<text x="332" y="536.5" font-size="8.5" text-anchor="middle" font-weight="bold" fill="#222" >GK. TÁROLÓ</text>
<text x="332" y="545.5" font-size="7.6" text-anchor="middle" font-weight="normal" fill="#333" >lapburk.</text>
<text x="332" y="554.1" font-size="7.6" text-anchor="middle" font-weight="normal" fill="#333" >17,40 m²</text>
<text x="339" y="630" font-size="7.6" text-anchor="start" font-weight="normal" fill="#333" >+0,15</text>
<circle cx="330.5" cy="640.5" r="6.1" fill="#fff"/>
<g stroke="#888" fill="none" stroke-width="1.1"><circle cx="330.5" cy="640.5" r="3.9"/><line x1="322.3" y1="640.5" x2="338.7" y2="640.5"/><line x1="330.5" y1="632.3" x2="330.5" y2="648.7"/></g><path d="M330.5,636.6 A3.9,3.9 0 0,0 326.6,640.5 L330.5,640.5 Z" fill="#888"/><path d="M330.5,644.4 A3.9,3.9 0 0,0 334.4,640.5 L330.5,640.5 Z" fill="#888"/>
<text x="244.4" y="579" font-size="8.5" text-anchor="middle" font-weight="bold" fill="#222" >KERÉKPÁR</text>
<text x="244.4" y="588.6" font-size="8.5" text-anchor="middle" font-weight="bold" fill="#222" >TÁROLÓ</text>
<text x="244.4" y="597" font-size="7.6" text-anchor="middle" font-weight="normal" fill="#333" >lapburk.</text>
<text x="244.4" y="605.6" font-size="7.6" text-anchor="middle" font-weight="normal" fill="#333" >7,08 m²</text>
<rect x="565.4" y="179.7" width="28.300000000000068" height="75.30000000000001" fill="none" stroke="#5a5a5a" stroke-width="1" />
<line x1="565.4" y1="184.7" x2="593.7" y2="184.7" stroke="#5a5a5a" stroke-width="0.9" />
<line x1="565.4" y1="250" x2="593.7" y2="250" stroke="#5a5a5a" stroke-width="0.9" />
<line x1="588.7" y1="184.7" x2="588.7" y2="250" stroke="#5a5a5a" stroke-width="0.9" />
<line x1="565.4" y1="206.46666666666667" x2="588.7" y2="206.46666666666667" stroke="#5a5a5a" stroke-width="0.9" />
<line x1="565.4" y1="228.23333333333332" x2="588.7" y2="228.23333333333332" stroke="#5a5a5a" stroke-width="0.9" />
<rect x="538.5" y="198.6" width="19.2" height="38.1" fill="none" stroke="#5a5a5a" stroke-width="0.9" />
<rect x="505.3" y="188" width="26.499999999999943" height="25.900000000000006" fill="none" stroke="#5a5a5a" stroke-width="1" />
<line x1="505.3" y1="192.6" x2="531.8" y2="192.6" stroke="#5a5a5a" stroke-width="0.9" />
<line x1="505.3" y1="209.3" x2="531.8" y2="209.3" stroke="#5a5a5a" stroke-width="0.9" />
<line x1="509.90000000000003" y1="192.6" x2="509.90000000000003" y2="209.3" stroke="#5a5a5a" stroke-width="0.9" />
<rect x="505.3" y="221.5" width="26.499999999999943" height="25.30000000000001" fill="none" stroke="#5a5a5a" stroke-width="1" />
<line x1="505.3" y1="226.1" x2="531.8" y2="226.1" stroke="#5a5a5a" stroke-width="0.9" />
<line x1="505.3" y1="242.20000000000002" x2="531.8" y2="242.20000000000002" stroke="#5a5a5a" stroke-width="0.9" />
<line x1="509.90000000000003" y1="226.1" x2="509.90000000000003" y2="242.20000000000002" stroke="#5a5a5a" stroke-width="0.9" />
<rect x="403.7" y="178.8" width="12.3" height="76.2" fill="none" stroke="#5a5a5a" stroke-width="0.9" />
<text x="485.2" y="205.5" font-size="8.5" text-anchor="middle" font-weight="bold" fill="#222" >NAPPALI</text>
<text x="485.2" y="214.5" font-size="7.6" text-anchor="middle" font-weight="normal" fill="#333" >lapburkolat</text>
<text x="485.2" y="223.1" font-size="7.6" text-anchor="middle" font-weight="normal" fill="#333" >26,52 m²</text>
<text x="478" y="162" font-size="7.6" text-anchor="start" font-weight="normal" fill="#333" >+0,15</text>
<circle cx="469.8" cy="171" r="6.1" fill="#fff"/>
<g stroke="#888" fill="none" stroke-width="1.1"><circle cx="469.8" cy="171" r="3.9"/><line x1="461.6" y1="171" x2="478.0" y2="171"/><line x1="469.8" y1="162.8" x2="469.8" y2="179.2"/></g><path d="M469.8,167.1 A3.9,3.9 0 0,0 465.90000000000003,171 L469.8,171 Z" fill="#888"/><path d="M469.8,174.9 A3.9,3.9 0 0,0 473.7,171 L469.8,171 Z" fill="#888"/>
<line x1="402.7" y1="272.4" x2="535.8" y2="272.4" stroke="#999" stroke-width="0.9" stroke-dasharray="4 2"/>
<polyline points="535.8,272.2 617.2,272.2" fill="none" stroke="#5a5a5a" stroke-width="0.9" />
<polyline points="535.8,272.2 535.8,291.7 560,291.7" fill="none" stroke="#5a5a5a" stroke-width="0.9" />
<rect x="419" y="303.8" width="56.39999999999998" height="29.0" fill="none" stroke="#5a5a5a" stroke-width="0.9" />
<rect x="421.4" y="288.0" width="13.4" height="15.8" fill="none" stroke="#5a5a5a" stroke-width="1" />
<line x1="421.4" y1="289.3" x2="434.79999999999995" y2="289.3" stroke="#5a5a5a" stroke-width="1.2" />
<rect x="421.4" y="332.8" width="13.4" height="15.8" fill="none" stroke="#5a5a5a" stroke-width="1" />
<line x1="421.4" y1="347.3" x2="434.79999999999995" y2="347.3" stroke="#5a5a5a" stroke-width="1.2" />
<rect x="440.3" y="288.0" width="13.4" height="15.8" fill="none" stroke="#5a5a5a" stroke-width="1" />
<line x1="440.3" y1="289.3" x2="453.7" y2="289.3" stroke="#5a5a5a" stroke-width="1.2" />
<rect x="440.3" y="332.8" width="13.4" height="15.8" fill="none" stroke="#5a5a5a" stroke-width="1" />
<line x1="440.3" y1="347.3" x2="453.7" y2="347.3" stroke="#5a5a5a" stroke-width="1.2" />
<rect x="459.5" y="288.0" width="13.4" height="15.8" fill="none" stroke="#5a5a5a" stroke-width="1" />
<line x1="459.5" y1="289.3" x2="472.9" y2="289.3" stroke="#5a5a5a" stroke-width="1.2" />
<rect x="459.5" y="332.8" width="13.4" height="15.8" fill="none" stroke="#5a5a5a" stroke-width="1" />
<line x1="459.5" y1="347.3" x2="472.9" y2="347.3" stroke="#5a5a5a" stroke-width="1.2" />
<rect x="403.5" y="311.8" width="15.5" height="13" fill="none" stroke="#5a5a5a" stroke-width="1" />
<line x1="404.8" y1="311.8" x2="404.8" y2="324.8" stroke="#5a5a5a" stroke-width="1.2" />
<rect x="475.4" y="311.8" width="15.5" height="13" fill="none" stroke="#5a5a5a" stroke-width="1" />
<line x1="489.59999999999997" y1="311.8" x2="489.59999999999997" y2="324.8" stroke="#5a5a5a" stroke-width="1.2" />
<text x="534" y="312" font-size="8.5" text-anchor="middle" font-weight="bold" fill="#222" >KONYHA-ÉTKEZŐ</text>
<text x="534" y="321" font-size="7.6" text-anchor="middle" font-weight="normal" fill="#333" >lapburk.</text>
<text x="534" y="329.6" font-size="7.6" text-anchor="middle" font-weight="normal" fill="#333" >16,84 m²</text>
<text x="595.6" y="330.5" font-size="8.5" text-anchor="middle" font-weight="bold" fill="#222" >KRA.</text>
<text x="595.6" y="339.5" font-size="7.6" text-anchor="middle" font-weight="normal" fill="#333" >lapburk</text>
<text x="595.6" y="348.1" font-size="7.6" text-anchor="middle" font-weight="normal" fill="#333" >1,32 m²</text>
<line x1="462.6" y1="365.1" x2="462.6" y2="395.4" stroke="#666" stroke-width="0.8" />
<line x1="471.5" y1="365.1" x2="471.5" y2="395.4" stroke="#666" stroke-width="0.8" />
<line x1="480.4" y1="365.1" x2="480.4" y2="395.4" stroke="#666" stroke-width="0.8" />
<line x1="489.3" y1="365.1" x2="489.3" y2="395.4" stroke="#666" stroke-width="0.8" />
<line x1="497.3" y1="365.1" x2="497.3" y2="395.4" stroke="#666" stroke-width="0.8" />
<line x1="462.6" y1="395.4" x2="497.3" y2="395.4" stroke="#666" stroke-width="0.8" />
<polyline points="455.5,365.5 464.5,393 469.7,365.5" fill="none" stroke="#666" stroke-width="0.8" />
<circle cx="496.4" cy="380.2" r="1.8" fill="none" stroke="#666" stroke-width="0.8"/>
<line x1="418" y1="380.2" x2="494.6" y2="380.2" stroke="#666" stroke-width="0.7" />
<path d="M418,380 V413 H505.3 V380 H497" fill="none" stroke="#666" stroke-width="0.8" stroke-dasharray="3 2"/>
<line x1="436" y1="398" x2="436" y2="428.3" stroke="#888" stroke-width="0.8" stroke-dasharray="3 2"/>
<line x1="444.8" y1="398" x2="444.8" y2="428.3" stroke="#888" stroke-width="0.8" stroke-dasharray="3 2"/>
<line x1="453.7" y1="398" x2="453.7" y2="428.3" stroke="#888" stroke-width="0.8" stroke-dasharray="3 2"/>
<line x1="462.6" y1="398" x2="462.6" y2="428.3" stroke="#888" stroke-width="0.8" stroke-dasharray="3 2"/>
<line x1="471.5" y1="398" x2="471.5" y2="428.3" stroke="#888" stroke-width="0.8" stroke-dasharray="3 2"/>
<line x1="480.4" y1="398" x2="480.4" y2="428.3" stroke="#888" stroke-width="0.8" stroke-dasharray="3 2"/>
<line x1="489.3" y1="398" x2="489.3" y2="428.3" stroke="#888" stroke-width="0.8" stroke-dasharray="3 2"/>
<line x1="498" y1="398" x2="498" y2="428.3" stroke="#888" stroke-width="0.8" stroke-dasharray="3 2"/>
<text x="453.7" y="385.6" font-size="8.5" text-anchor="middle" font-weight="bold" fill="#222" >LÉPCSŐ</text>
<text x="453.7" y="394.6" font-size="7.6" text-anchor="middle" font-weight="normal" fill="#333" >lapburk.</text>
<text x="453.7" y="403.20000000000005" font-size="7.6" text-anchor="middle" font-weight="normal" fill="#333" >5,95 m²</text>
<line x1="400" y1="415.8" x2="507" y2="415.8" stroke="#666" stroke-width="0.8" />
<line x1="402.6" y1="411.8" x2="402.6" y2="419.8" stroke="#999" stroke-width="0.7" />
<line x1="399.40000000000003" y1="419.0" x2="405.8" y2="412.6" stroke="#111" stroke-width="1.2" />
<line x1="505.3" y1="411.8" x2="505.3" y2="419.8" stroke="#999" stroke-width="0.7" />
<line x1="502.1" y1="419.0" x2="508.5" y2="412.6" stroke="#111" stroke-width="1.2" />
<text x="487.5" y="414.40000000000003" font-size="7.6" text-anchor="middle" font-weight="normal" fill="#333" >5,70</text>
<text x="530.4" y="388.4" font-size="8.5" text-anchor="middle" font-weight="bold" fill="#222" >ELŐTÉR</text>
<text x="530.4" y="397.4" font-size="7.6" text-anchor="middle" font-weight="normal" fill="#333" >lapburk.</text>
<text x="530.4" y="406.0" font-size="7.6" text-anchor="middle" font-weight="normal" fill="#333" >5,45 m²</text>
<text x="564.7" y="374.6" font-size="7.6" text-anchor="start" font-weight="normal" fill="#333" >+0,15</text>
<circle cx="556.3" cy="383.5" r="6.1" fill="#fff"/>
<g stroke="#888" fill="none" stroke-width="1.1"><circle cx="556.3" cy="383.5" r="3.9"/><line x1="548.0999999999999" y1="383.5" x2="564.5" y2="383.5"/><line x1="556.3" y1="375.3" x2="556.3" y2="391.7"/></g><path d="M556.3,379.6 A3.9,3.9 0 0,0 552.4,383.5 L556.3,383.5 Z" fill="#888"/><path d="M556.3,387.4 A3.9,3.9 0 0,0 560.1999999999999,383.5 L556.3,383.5 Z" fill="#888"/>
<line x1="591.3" y1="415.5" x2="561.3" y2="415.5" stroke="#666" stroke-width="0.9"/>
<path d="M561.3,415.5 A30,30 0 0,1 591.3,385.5" fill="none" stroke="#666" stroke-width="0.8"/>
<line x1="582.3" y1="373.9" x2="582.3" y2="420" stroke="#666" stroke-width="0.8" stroke-dasharray="3 2"/>
<text x="527.8" y="447.4" font-size="8.5" text-anchor="middle" font-weight="bold" fill="#222" >KÖZL.</text>
<text x="527.8" y="456.4" font-size="7.6" text-anchor="middle" font-weight="normal" fill="#333" >lapburk.</text>
<text x="527.8" y="465.0" font-size="7.6" text-anchor="middle" font-weight="normal" fill="#333" >2,10 m²</text>
<text x="583.7" y="448.5" font-size="8.5" text-anchor="middle" font-weight="bold" fill="#222" >ZUH.-WC</text>
<text x="583.7" y="457.5" font-size="7.6" text-anchor="middle" font-weight="normal" fill="#333" >lapb.</text>
<text x="583.7" y="466.1" font-size="7.6" text-anchor="middle" font-weight="normal" fill="#333" >4,71 m²</text>
<text x="583.7" y="474.7" font-size="7.6" text-anchor="middle" font-weight="normal" fill="#333" >2,30</text>
<rect x="596.5" y="437" width="14.5" height="10" rx="3" fill="none" stroke="#666" stroke-width="0.9"/><ellipse cx="603.7" cy="442" rx="5.3" ry="3.2" fill="none" stroke="#777" stroke-width="0.8"/>
<rect x="597" y="495.5" width="11" height="3.5" fill="none" stroke="#777" stroke-width="0.8"/><ellipse cx="602.5" cy="487" rx="5.5" ry="7.5" fill="none" stroke="#777" stroke-width="0.8"/>
<rect x="545" y="474" width="28.5" height="24.3" fill="none" stroke="#5a5a5a" stroke-width="0.9" />
<rect x="547" y="476" width="24.5" height="20.3" fill="none" stroke="#5a5a5a" stroke-width="0.7" />
<line x1="549" y1="494.5" x2="569" y2="478" stroke="#5a5a5a" stroke-width="0.8" />
<text x="546" y="524.7" font-size="8.5" text-anchor="middle" font-weight="bold" fill="#222" >KERÉKPÁR</text>
<text x="546" y="533.7" font-size="7.6" text-anchor="middle" font-weight="normal" fill="#333" ></text>
<text x="546" y="542.3000000000001" font-size="7.6" text-anchor="middle" font-weight="normal" fill="#333" ></text>
<text x="546" y="534.9" font-size="8.5" text-anchor="middle" font-weight="bold" fill="#222" >TÁROLÓ</text>
<text x="546" y="544" font-size="7.6" text-anchor="middle" font-weight="normal" fill="#333" >lapburk.</text>
<text x="546" y="553.2" font-size="7.6" text-anchor="middle" font-weight="normal" fill="#333" >7,08 m²</text>
<text x="454.9" y="506.5" font-size="8.5" text-anchor="middle" font-weight="bold" fill="#222" >GK. TÁROLÓ</text>
<text x="454.9" y="515.5" font-size="7.6" text-anchor="middle" font-weight="normal" fill="#333" >lapburk.</text>
<text x="454.9" y="524.1" font-size="7.6" text-anchor="middle" font-weight="normal" fill="#333" >17,40 m²</text>
<text x="452.5" y="589.3" font-size="7.6" text-anchor="start" font-weight="normal" fill="#333" >+0,15</text>
<circle cx="443.4" cy="597.6" r="6.1" fill="#fff"/>
<g stroke="#888" fill="none" stroke-width="1.1"><circle cx="443.4" cy="597.6" r="3.9"/><line x1="435.2" y1="597.6" x2="451.59999999999997" y2="597.6"/><line x1="443.4" y1="589.4" x2="443.4" y2="605.8000000000001"/></g><path d="M443.4,593.7 A3.9,3.9 0 0,0 439.5,597.6 L443.4,597.6 Z" fill="#888"/><path d="M443.4,601.5 A3.9,3.9 0 0,0 447.29999999999995,597.6 L443.4,597.6 Z" fill="#888"/>
<line x1="193.7" y1="152.4" x2="193.7" y2="205.2" stroke="#888" stroke-width="0.8" />
<line x1="287.8" y1="152.4" x2="287.8" y2="213" stroke="#888" stroke-width="0.8" />
<text x="191.5" y="159.8" font-size="7.6" text-anchor="middle" font-weight="normal" fill="#333" transform="rotate(-90 191.5 159.8)"  stroke="#fff" stroke-width="2.8" paint-order="stroke" stroke-linejoin="round">180</text>
<text x="202.29999999999998" y="159.8" font-size="7.6" text-anchor="middle" font-weight="normal" fill="#333" transform="rotate(-90 202.29999999999998 159.8)"  stroke="#fff" stroke-width="2.8" paint-order="stroke" stroke-linejoin="round">210</text>
<text x="285.6" y="169.7" font-size="7.6" text-anchor="middle" font-weight="normal" fill="#333" transform="rotate(-90 285.6 169.7)"  stroke="#fff" stroke-width="2.8" paint-order="stroke" stroke-linejoin="round">300</text>
<text x="296.40000000000003" y="169.7" font-size="7.6" text-anchor="middle" font-weight="normal" fill="#333" transform="rotate(-90 296.40000000000003 169.7)"  stroke="#fff" stroke-width="2.8" paint-order="stroke" stroke-linejoin="round">240</text>
<text x="182.4" y="201.1" font-size="7.6" text-anchor="start" font-weight="normal" fill="#333" >pm 30</text>
<text x="181.6" y="196.2" font-size="7.6" text-anchor="middle" font-weight="normal" fill="#333" transform="rotate(-90 181.6 196.2)" >30</text>
<text x="181.6" y="209.4" font-size="7.6" text-anchor="middle" font-weight="normal" fill="#333" transform="rotate(-90 181.6 209.4)" >pm</text>
<line x1="131.8" y1="203.6" x2="184.3" y2="203.6" stroke="#888" stroke-width="0.8" />
<text x="141" y="201.4" font-size="7.6" text-anchor="middle" font-weight="normal" fill="#333" >120</text>
<text x="141" y="212.0" font-size="7.6" text-anchor="middle" font-weight="normal" fill="#333" >210</text>
<line x1="131.8" y1="248.5" x2="184.3" y2="248.5" stroke="#888" stroke-width="0.8" />
<text x="140" y="246.3" font-size="7.6" text-anchor="middle" font-weight="normal" fill="#333" >45</text>
<text x="140" y="256.9" font-size="7.6" text-anchor="middle" font-weight="normal" fill="#333" >210</text>
<text x="181.6" y="241.6" font-size="7.6" text-anchor="middle" font-weight="normal" fill="#333" transform="rotate(-90 181.6 241.6)" >30</text>
<text x="181.6" y="252.5" font-size="7.6" text-anchor="middle" font-weight="normal" fill="#333" transform="rotate(-90 181.6 252.5)" >pm</text>
<line x1="131.8" y1="281.4" x2="184.3" y2="281.4" stroke="#888" stroke-width="0.8" />
<text x="140" y="279.2" font-size="7.6" text-anchor="middle" font-weight="normal" fill="#333" >45</text>
<text x="140" y="289.79999999999995" font-size="7.6" text-anchor="middle" font-weight="normal" fill="#333" >210</text>
<text x="181.6" y="274.2" font-size="7.6" text-anchor="middle" font-weight="normal" fill="#333" transform="rotate(-90 181.6 274.2)" >30</text>
<text x="181.6" y="286" font-size="7.6" text-anchor="middle" font-weight="normal" fill="#333" transform="rotate(-90 181.6 286)" >pm</text>
<line x1="131.8" y1="314.4" x2="184.3" y2="314.4" stroke="#888" stroke-width="0.8" />
<text x="140" y="312.2" font-size="7.6" text-anchor="middle" font-weight="normal" fill="#333" >45</text>
<text x="140" y="322.79999999999995" font-size="7.6" text-anchor="middle" font-weight="normal" fill="#333" >210</text>
<text x="181.6" y="306.8" font-size="7.6" text-anchor="middle" font-weight="normal" fill="#333" transform="rotate(-90 181.6 306.8)" >30</text>
<text x="181.6" y="318.6" font-size="7.6" text-anchor="middle" font-weight="normal" fill="#333" transform="rotate(-90 181.6 318.6)" >pm</text>
<line x1="148" y1="297.3" x2="632" y2="297.3" stroke="#666" stroke-width="0.8" />
<line x1="160.8" y1="293.3" x2="160.8" y2="301.3" stroke="#999" stroke-width="0.7" />
<line x1="157.60000000000002" y1="300.5" x2="164.0" y2="294.1" stroke="#111" stroke-width="1.2" />
<line x1="172.5" y1="293.3" x2="172.5" y2="301.3" stroke="#999" stroke-width="0.7" />
<line x1="169.3" y1="300.5" x2="175.7" y2="294.1" stroke="#111" stroke-width="1.2" />
<line x1="386.8" y1="293.3" x2="386.8" y2="301.3" stroke="#999" stroke-width="0.7" />
<line x1="383.6" y1="300.5" x2="390.0" y2="294.1" stroke="#111" stroke-width="1.2" />
<line x1="395.2" y1="293.3" x2="395.2" y2="301.3" stroke="#999" stroke-width="0.7" />
<line x1="392.0" y1="300.5" x2="398.4" y2="294.1" stroke="#111" stroke-width="1.2" />
<line x1="402.2" y1="293.3" x2="402.2" y2="301.3" stroke="#999" stroke-width="0.7" />
<line x1="399.0" y1="300.5" x2="405.4" y2="294.1" stroke="#111" stroke-width="1.2" />
<line x1="617.4" y1="293.3" x2="617.4" y2="301.3" stroke="#999" stroke-width="0.7" />
<line x1="614.1999999999999" y1="300.5" x2="620.6" y2="294.1" stroke="#111" stroke-width="1.2" />
<text x="153" y="296.0" font-size="7.6" text-anchor="middle" font-weight="normal" fill="#333" >12</text>
<text x="175" y="296.0" font-size="7.6" text-anchor="start" font-weight="normal" fill="#333" >30</text>
<text x="279.8" y="296.0" font-size="7.6" text-anchor="middle" font-weight="normal" fill="#333" >6,80</text>
<text x="380.2" y="296.0" font-size="7.6" text-anchor="middle" font-weight="normal" fill="#333" >25</text>
<text x="409.2" y="296.0" font-size="7.6" text-anchor="middle" font-weight="normal" fill="#333" >25</text>
<text x="510" y="296.0" font-size="7.6" text-anchor="middle" font-weight="normal" fill="#333" >6,80</text>
<line x1="360.7" y1="190" x2="360.7" y2="678" stroke="#666" stroke-width="0.8" />
<line x1="356.7" y1="192.3" x2="364.7" y2="192.3" stroke="#999" stroke-width="0.7" />
<line x1="357.5" y1="189.10000000000002" x2="363.9" y2="195.5" stroke="#111" stroke-width="1.2" />
<line x1="356.7" y1="400.2" x2="364.7" y2="400.2" stroke="#999" stroke-width="0.7" />
<line x1="357.5" y1="397.0" x2="363.9" y2="403.4" stroke="#111" stroke-width="1.2" />
<line x1="356.7" y1="408.3" x2="364.7" y2="408.3" stroke="#999" stroke-width="0.7" />
<line x1="357.5" y1="405.1" x2="363.9" y2="411.5" stroke="#111" stroke-width="1.2" />
<line x1="356.7" y1="471.2" x2="364.7" y2="471.2" stroke="#999" stroke-width="0.7" />
<line x1="357.5" y1="468.0" x2="363.9" y2="474.4" stroke="#111" stroke-width="1.2" />
<line x1="356.7" y1="478.4" x2="364.7" y2="478.4" stroke="#999" stroke-width="0.7" />
<line x1="357.5" y1="475.2" x2="363.9" y2="481.59999999999997" stroke="#111" stroke-width="1.2" />
<line x1="356.7" y1="664.4" x2="364.7" y2="664.4" stroke="#999" stroke-width="0.7" />
<line x1="357.5" y1="661.1999999999999" x2="363.9" y2="667.6" stroke="#111" stroke-width="1.2" />
<line x1="356.7" y1="677.3" x2="364.7" y2="677.3" stroke="#999" stroke-width="0.7" />
<line x1="357.5" y1="674.0999999999999" x2="363.9" y2="680.5" stroke="#111" stroke-width="1.2" />
<text x="358.4" y="300" font-size="7.6" text-anchor="middle" font-weight="normal" fill="#333" transform="rotate(-90 358.4 300)" >6,60</text>
<text x="358.4" y="413.8" font-size="7.6" text-anchor="middle" font-weight="normal" fill="#333" transform="rotate(-90 358.4 413.8)" >25</text>
<text x="358.4" y="486.4" font-size="7.6" text-anchor="middle" font-weight="normal" fill="#333" transform="rotate(-90 358.4 486.4)" >25</text>
<text x="358.4" y="574" font-size="7.6" text-anchor="middle" font-weight="normal" fill="#333" transform="rotate(-90 358.4 574)" >5,90</text>
<line x1="430.3" y1="148" x2="430.3" y2="681" stroke="#666" stroke-width="0.8" />
<line x1="426.3" y1="150.3" x2="434.3" y2="150.3" stroke="#999" stroke-width="0.7" />
<line x1="427.1" y1="147.10000000000002" x2="433.5" y2="153.5" stroke="#111" stroke-width="1.2" />
<line x1="426.3" y1="358" x2="434.3" y2="358" stroke="#999" stroke-width="0.7" />
<line x1="427.1" y1="354.8" x2="433.5" y2="361.2" stroke="#111" stroke-width="1.2" />
<line x1="426.3" y1="365.1" x2="434.3" y2="365.1" stroke="#999" stroke-width="0.7" />
<line x1="427.1" y1="361.90000000000003" x2="433.5" y2="368.3" stroke="#111" stroke-width="1.2" />
<line x1="426.3" y1="428.3" x2="434.3" y2="428.3" stroke="#999" stroke-width="0.7" />
<line x1="427.1" y1="425.1" x2="433.5" y2="431.5" stroke="#111" stroke-width="1.2" />
<line x1="426.3" y1="436.3" x2="434.3" y2="436.3" stroke="#999" stroke-width="0.7" />
<line x1="427.1" y1="433.1" x2="433.5" y2="439.5" stroke="#111" stroke-width="1.2" />
<line x1="426.3" y1="622.4" x2="434.3" y2="622.4" stroke="#999" stroke-width="0.7" />
<line x1="427.1" y1="619.1999999999999" x2="433.5" y2="625.6" stroke="#111" stroke-width="1.2" />
<line x1="426.3" y1="634.2" x2="434.3" y2="634.2" stroke="#999" stroke-width="0.7" />
<line x1="427.1" y1="631.0" x2="433.5" y2="637.4000000000001" stroke="#111" stroke-width="1.2" />
<line x1="426.3" y1="678.6" x2="434.3" y2="678.6" stroke="#999" stroke-width="0.7" />
<line x1="427.1" y1="675.4" x2="433.5" y2="681.8000000000001" stroke="#111" stroke-width="1.2" />
<text x="428.0" y="254" font-size="7.6" text-anchor="middle" font-weight="normal" fill="#333" transform="rotate(-90 428.0 254)" >6,60</text>
<text x="428.0" y="372" font-size="7.6" text-anchor="middle" font-weight="normal" fill="#333" transform="rotate(-90 428.0 372)" >25</text>
<text x="428.0" y="441.6" font-size="7.6" text-anchor="middle" font-weight="normal" fill="#333" transform="rotate(-90 428.0 441.6)" >25</text>
<text x="428.0" y="530" font-size="7.6" text-anchor="middle" font-weight="normal" fill="#333" transform="rotate(-90 428.0 530)" >5,90</text>
<text x="428.0" y="642.3" font-size="7.6" text-anchor="middle" font-weight="normal" fill="#333" transform="rotate(-90 428.0 642.3)" >42</text>
<text x="428.0" y="660.4" font-size="7.6" text-anchor="middle" font-weight="normal" fill="#333" transform="rotate(-90 428.0 660.4)" >1,35</text>
<line x1="273.3" y1="340" x2="273.3" y2="470" stroke="#888" stroke-width="0.8" />
<text x="271.1" y="390.6" font-size="7.6" text-anchor="middle" font-weight="normal" fill="#333" transform="rotate(-90 271.1 390.6)" >120</text>
<text x="281.90000000000003" y="390.6" font-size="7.6" text-anchor="middle" font-weight="normal" fill="#333" transform="rotate(-90 281.90000000000003 390.6)" >210</text>
<path d="M254.4,400.2 H292.3 M254.4,408.3 H292.3" stroke="#666" stroke-width="0.9" stroke-dasharray="3.5 2"/>
<text x="388.2" y="414.6" font-size="7.6" text-anchor="middle" font-weight="normal" fill="#333" >25</text>
<text x="388.2" y="474" font-size="7.6" text-anchor="middle" font-weight="normal" fill="#333" >25</text>
<line x1="430.3" y1="110" x2="430.3" y2="150.3" stroke="#888" stroke-width="0.8" />
<line x1="510.2" y1="110" x2="510.2" y2="150.3" stroke="#888" stroke-width="0.8" />
<line x1="592.1" y1="110" x2="592.1" y2="150.3" stroke="#888" stroke-width="0.8" />
<text x="427.1" y="117" font-size="7.6" text-anchor="middle" font-weight="normal" fill="#333" transform="rotate(-90 427.1 117)"  stroke="#fff" stroke-width="2.8" paint-order="stroke" stroke-linejoin="round">120</text>
<text x="438.5" y="117" font-size="7.6" text-anchor="middle" font-weight="normal" fill="#333" transform="rotate(-90 438.5 117)"  stroke="#fff" stroke-width="2.8" paint-order="stroke" stroke-linejoin="round">210</text>
<text x="427.5" y="141.5" font-size="7.6" text-anchor="middle" font-weight="normal" fill="#333" transform="rotate(-90 427.5 141.5)"  stroke="#fff" stroke-width="2.8" paint-order="stroke" stroke-linejoin="round">42</text>
<text x="507.5" y="127.7" font-size="7.6" text-anchor="middle" font-weight="normal" fill="#333" transform="rotate(-90 507.5 127.7)"  stroke="#fff" stroke-width="2.8" paint-order="stroke" stroke-linejoin="round">300</text>
<text x="518.2" y="127.7" font-size="7.6" text-anchor="middle" font-weight="normal" fill="#333" transform="rotate(-90 518.2 127.7)"  stroke="#fff" stroke-width="2.8" paint-order="stroke" stroke-linejoin="round">240</text>
<text x="589.4" y="117" font-size="7.6" text-anchor="middle" font-weight="normal" fill="#333" transform="rotate(-90 589.4 117)"  stroke="#fff" stroke-width="2.8" paint-order="stroke" stroke-linejoin="round">120</text>
<text x="600.1" y="117" font-size="7.6" text-anchor="middle" font-weight="normal" fill="#333" transform="rotate(-90 600.1 117)"  stroke="#fff" stroke-width="2.8" paint-order="stroke" stroke-linejoin="round">210</text>
<text x="417.4" y="158.7" font-size="7.6" text-anchor="start" font-weight="normal" fill="#333" >pm 30</text>
<text x="581" y="158.7" font-size="7.6" text-anchor="start" font-weight="normal" fill="#333" >pm 30</text>
<text x="613.7" y="196.9" font-size="7.6" text-anchor="middle" font-weight="normal" fill="#333" transform="rotate(-90 613.7 196.9)" >40</text>
<text x="613.7" y="208.4" font-size="7.6" text-anchor="middle" font-weight="normal" fill="#333" transform="rotate(-90 613.7 208.4)" >pm</text>
<line x1="604" y1="203.2" x2="657.8" y2="203.2" stroke="#888" stroke-width="0.8" />
<text x="651" y="201.0" font-size="7.6" text-anchor="middle" font-weight="normal" fill="#333" >40</text>
<text x="651" y="211.6" font-size="7.6" text-anchor="middle" font-weight="normal" fill="#333" >200</text>
<polyline points="625.8,202.3 637.3,190.3 651.8,190.3" fill="none" stroke="#444" stroke-width="0.8" />
<text x="653" y="192.70000000000002" font-size="6.3" font-style="italic" fill="#333">üvegtégla</text>
<text x="613.7" y="228.3" font-size="7.6" text-anchor="middle" font-weight="normal" fill="#333" transform="rotate(-90 613.7 228.3)" >40</text>
<text x="613.7" y="240.4" font-size="7.6" text-anchor="middle" font-weight="normal" fill="#333" transform="rotate(-90 613.7 240.4)" >pm</text>
<line x1="604" y1="235" x2="657.8" y2="235" stroke="#888" stroke-width="0.8" />
<text x="651" y="232.8" font-size="7.6" text-anchor="middle" font-weight="normal" fill="#333" >40</text>
<text x="651" y="243.4" font-size="7.6" text-anchor="middle" font-weight="normal" fill="#333" >200</text>
<polyline points="625.8,233.7 637.3,221.7 651.8,221.7" fill="none" stroke="#444" stroke-width="0.8" />
<text x="653" y="224.1" font-size="6.3" font-style="italic" fill="#333">üvegtégla</text>
<text x="613.7" y="259.7" font-size="7.6" text-anchor="middle" font-weight="normal" fill="#333" transform="rotate(-90 613.7 259.7)" >40</text>
<text x="613.7" y="273" font-size="7.6" text-anchor="middle" font-weight="normal" fill="#333" transform="rotate(-90 613.7 273)" >pm</text>
<line x1="604" y1="266.4" x2="657.8" y2="266.4" stroke="#888" stroke-width="0.8" />
<text x="651" y="264.2" font-size="7.6" text-anchor="middle" font-weight="normal" fill="#333" >40</text>
<text x="651" y="274.79999999999995" font-size="7.6" text-anchor="middle" font-weight="normal" fill="#333" >200</text>
<polyline points="625.8,265 637.3,253 651.8,253" fill="none" stroke="#444" stroke-width="0.8" />
<text x="653" y="255.4" font-size="6.3" font-style="italic" fill="#333">üvegtégla</text>
<text x="610" y="295.9" font-size="7.6" text-anchor="middle" font-weight="normal" fill="#333" >30</text>
<text x="632.7" y="295.9" font-size="7.6" text-anchor="start" font-weight="normal" fill="#333" >12</text>
<polyline points="560,291.7 598.4,291.7 598.4,314.7" fill="none" stroke="#5a5a5a" stroke-width="0.9" />
<g transform="rotate(35 573 326.5)"><rect x="561" y="323.5" width="24" height="6" fill="#fff" stroke="#777" stroke-width="0.8"/></g>
<path d="M574,311 A22,22 0 0,1 594.2,319.6" fill="none" stroke="#777" stroke-width="0.8"/>
<text x="573" y="329.2" font-size="7.6" fill="#333" text-anchor="middle" transform="rotate(35 573 326.5)">210</text>
<text x="574" y="314" font-size="7.6" fill="#333" text-anchor="middle" transform="rotate(45 574 312)">75</text>
<text x="599.8" y="353.2" font-size="7.6" text-anchor="start" font-weight="normal" fill="#333" >pm 90</text>
<text x="613" y="339.9" font-size="7.6" text-anchor="middle" font-weight="normal" fill="#333" transform="rotate(-90 613 339.9)" >90</text>
<line x1="606" y1="346.6" x2="657.8" y2="346.6" stroke="#888" stroke-width="0.8" />
<text x="649.5" y="344.40000000000003" font-size="7.6" text-anchor="middle" font-weight="normal" fill="#333" >120</text>
<text x="649.5" y="355.0" font-size="7.6" text-anchor="middle" font-weight="normal" fill="#333" >60</text>
<text x="358.5" y="199" font-size="7.6" text-anchor="middle" font-weight="normal" fill="#333" transform="rotate(-90 358.5 199)" >42</text>
<text x="356.3" y="444" font-size="7.6" text-anchor="middle" font-weight="normal" fill="#333" transform="rotate(-90 356.3 444)" >2,00</text>
<text x="428" y="398" font-size="7.6" text-anchor="middle" font-weight="normal" fill="#333" transform="rotate(-90 428 398)" >2,00</text>
<line x1="245.3" y1="483.2" x2="224.2" y2="483.2" stroke="#666" stroke-width="0.9"/>
<path d="M224.2,483.2 A21.1,21.1 0 0,0 245.3,504.3" fill="none" stroke="#666" stroke-width="0.8"/>
<text x="234" y="490.6" font-size="7.6" text-anchor="middle" font-weight="normal" fill="#333" >75</text>
<text x="236" y="501.5" font-size="7.6" text-anchor="middle" font-weight="normal" fill="#333" >210</text>
<line x1="224.2" y1="493.5" x2="245.3" y2="493.5" stroke="#999" stroke-width="0.7" />
<line x1="295.8" y1="483.2" x2="270" y2="483.2" stroke="#666" stroke-width="0.9"/>
<path d="M270,483.2 A25.8,25.8 0 0,0 295.8,509" fill="none" stroke="#666" stroke-width="0.8"/>
<text x="284" y="492.5" font-size="7.6" text-anchor="middle" font-weight="normal" fill="#333" >90</text>
<text x="286.5" y="504.3" font-size="7.6" text-anchor="middle" font-weight="normal" fill="#333" >210</text>
<line x1="270" y1="496.3" x2="311.9" y2="496.3" stroke="#999" stroke-width="0.8" />
<line x1="284.8" y1="526" x2="284.8" y2="551.8" stroke="#666" stroke-width="0.9"/>
<path d="M284.8,551.8 A25.8,25.8 0 0,1 259,526" fill="none" stroke="#666" stroke-width="0.8"/>
<text x="268.8" y="537.5" font-size="7.6" text-anchor="middle" font-weight="normal" fill="#333" transform="rotate(-90 268.8 537.5)" >90</text>
<text x="280.8" y="535.2" font-size="7.6" text-anchor="middle" font-weight="normal" fill="#333" transform="rotate(-90 280.8 535.2)" >210</text>
<line x1="272.8" y1="526" x2="272.8" y2="552.4" stroke="#999" stroke-width="0.8" />
<line x1="148" y1="520.8" x2="402" y2="520.8" stroke="#666" stroke-width="0.8" />
<line x1="159.9" y1="516.8" x2="159.9" y2="524.8" stroke="#999" stroke-width="0.7" />
<line x1="156.70000000000002" y1="524.0" x2="163.1" y2="517.5999999999999" stroke="#111" stroke-width="1.2" />
<line x1="172.5" y1="516.8" x2="172.5" y2="524.8" stroke="#999" stroke-width="0.7" />
<line x1="169.3" y1="524.0" x2="175.7" y2="517.5999999999999" stroke="#111" stroke-width="1.2" />
<line x1="245.8" y1="516.8" x2="245.8" y2="524.8" stroke="#999" stroke-width="0.7" />
<line x1="242.60000000000002" y1="524.0" x2="249.0" y2="517.5999999999999" stroke="#111" stroke-width="1.2" />
<line x1="249" y1="516.8" x2="249" y2="524.8" stroke="#999" stroke-width="0.7" />
<line x1="245.8" y1="524.0" x2="252.2" y2="517.5999999999999" stroke="#111" stroke-width="1.2" />
<line x1="297.8" y1="516.8" x2="297.8" y2="524.8" stroke="#999" stroke-width="0.7" />
<line x1="294.6" y1="524.0" x2="301.0" y2="517.5999999999999" stroke="#111" stroke-width="1.2" />
<line x1="299.6" y1="516.8" x2="299.6" y2="524.8" stroke="#999" stroke-width="0.7" />
<line x1="296.40000000000003" y1="524.0" x2="302.8" y2="517.5999999999999" stroke="#111" stroke-width="1.2" />
<line x1="386.7" y1="516.8" x2="386.7" y2="524.8" stroke="#999" stroke-width="0.7" />
<line x1="383.5" y1="524.0" x2="389.9" y2="517.5999999999999" stroke="#111" stroke-width="1.2" />
<line x1="393.9" y1="516.8" x2="393.9" y2="524.8" stroke="#999" stroke-width="0.7" />
<line x1="390.7" y1="524.0" x2="397.09999999999997" y2="517.5999999999999" stroke="#111" stroke-width="1.2" />
<text x="153.5" y="519.5" font-size="7.6" text-anchor="middle" font-weight="normal" fill="#333" >42</text>
<text x="239.5" y="519.5" font-size="7.6" text-anchor="middle" font-weight="normal" fill="#333" >10</text>
<text x="270.5" y="519.5" font-size="7.6" text-anchor="middle" font-weight="normal" fill="#333" >1,50</text>
<text x="289.8" y="519.0999999999999" font-size="7.6" text-anchor="middle" font-weight="normal" fill="#333" >10</text>
<text x="338.7" y="519.0999999999999" font-size="7.6" text-anchor="middle" font-weight="normal" fill="#333" >2,80</text>
<text x="380.5" y="519.0999999999999" font-size="7.6" text-anchor="middle" font-weight="normal" fill="#333" >25</text>
<line x1="179.5" y1="412" x2="179.5" y2="436" stroke="#999" stroke-width="0.8" />
<line x1="172" y1="439.5" x2="196" y2="439.5" stroke="#999" stroke-width="0.8" />
<text x="175.4" y="423" font-size="7.6" text-anchor="middle" font-weight="normal" fill="#333" transform="rotate(-90 175.4 423)"  stroke="#fff" stroke-width="2.8" paint-order="stroke" stroke-linejoin="round">90</text>
<text x="187" y="423" font-size="7.6" text-anchor="middle" font-weight="normal" fill="#333" transform="rotate(-90 187 423)"  stroke="#fff" stroke-width="2.8" paint-order="stroke" stroke-linejoin="round">60</text>
<text x="185" y="437" font-size="7.6" text-anchor="middle" font-weight="normal" fill="#333"  stroke="#fff" stroke-width="2.8" paint-order="stroke" stroke-linejoin="round">140</text>
<text x="185" y="447.7" font-size="7.6" text-anchor="middle" font-weight="normal" fill="#333"  stroke="#fff" stroke-width="2.8" paint-order="stroke" stroke-linejoin="round">240</text>
<text x="187.4" y="457.6" font-size="7.6" text-anchor="middle" font-weight="normal" fill="#333"  stroke="#fff" stroke-width="2.8" paint-order="stroke" stroke-linejoin="round">42</text>
<line x1="143" y1="459.8" x2="197" y2="459.8" stroke="#666" stroke-width="0.8" />
<line x1="159.7" y1="455.8" x2="159.7" y2="463.8" stroke="#999" stroke-width="0.7" />
<line x1="156.5" y1="463.0" x2="162.89999999999998" y2="456.6" stroke="#111" stroke-width="1.2" />
<line x1="195.2" y1="455.8" x2="195.2" y2="463.8" stroke="#999" stroke-width="0.7" />
<line x1="192.0" y1="463.0" x2="198.39999999999998" y2="456.6" stroke="#111" stroke-width="1.2" />
<text x="150.2" y="457.6" font-size="7.6" text-anchor="middle" font-weight="normal" fill="#333" >1,10</text>
<path d="M154,429.7 Q160.6,434 160.4,439.3 Q160.6,445 154,449.5 Q157.2,439.5 154,429.7 Z" fill="#555"/>
<rect x="149.5" y="431" width="3" height="16" fill="#ddd"/>
<line x1="610.3" y1="360" x2="610.3" y2="388.6" stroke="#999" stroke-width="0.8" />
<line x1="580" y1="396.6" x2="620" y2="396.6" stroke="#999" stroke-width="0.8" />
<text x="607.5" y="380.6" font-size="7.6" text-anchor="middle" font-weight="normal" fill="#333" transform="rotate(-90 607.5 380.6)"  stroke="#fff" stroke-width="2.8" paint-order="stroke" stroke-linejoin="round">90</text>
<text x="619" y="380.6" font-size="7.6" text-anchor="middle" font-weight="normal" fill="#333" transform="rotate(-90 619 380.6)"  stroke="#fff" stroke-width="2.8" paint-order="stroke" stroke-linejoin="round">60</text>
<text x="605" y="393.8" font-size="7.6" text-anchor="middle" font-weight="normal" fill="#333"  stroke="#fff" stroke-width="2.8" paint-order="stroke" stroke-linejoin="round">140</text>
<text x="605" y="404.6" font-size="7.6" text-anchor="middle" font-weight="normal" fill="#333"  stroke="#fff" stroke-width="2.8" paint-order="stroke" stroke-linejoin="round">240</text>
<line x1="594" y1="416" x2="632" y2="416" stroke="#666" stroke-width="0.8" />
<line x1="595.4" y1="412" x2="595.4" y2="420" stroke="#999" stroke-width="0.7" />
<line x1="592.1999999999999" y1="419.2" x2="598.6" y2="412.8" stroke="#111" stroke-width="1.2" />
<line x1="630.3" y1="412" x2="630.3" y2="420" stroke="#999" stroke-width="0.7" />
<line x1="627.0999999999999" y1="419.2" x2="633.5" y2="412.8" stroke="#111" stroke-width="1.2" />
<text x="613" y="414.3" font-size="7.6" text-anchor="middle" font-weight="normal" fill="#333" >1,10</text>
<text x="575.4" y="412.8" font-size="7.6" text-anchor="middle" font-weight="normal" fill="#333" >42</text>
<path d="M627.2,386.6 Q621,391 620.2,396.5 Q621,402 626.8,406.7 Q625.2,396.5 627.2,386.6 Z" fill="#555"/>
<rect x="627.8" y="387" width="3" height="18" fill="#ddd"/>
<text x="649.2" y="436.1" font-size="7.6" text-anchor="start" font-weight="normal" fill="#333" >±0,00</text>
<line x1="516" y1="335" x2="516" y2="441.7" stroke="#888" stroke-width="0.8" />
<text x="512.9" y="348" font-size="7.6" text-anchor="middle" font-weight="normal" fill="#333" transform="rotate(-90 512.9 348)" >120</text>
<text x="524.3" y="348" font-size="7.6" text-anchor="middle" font-weight="normal" fill="#333" transform="rotate(-90 524.3 348)" >210</text>
<text x="512.9" y="419.6" font-size="7.6" text-anchor="middle" font-weight="normal" fill="#333" transform="rotate(-90 512.9 419.6)" >120</text>
<text x="524.3" y="419.6" font-size="7.6" text-anchor="middle" font-weight="normal" fill="#333" transform="rotate(-90 524.3 419.6)" >210</text>
<path d="M497.3,357.9 H535.7 M497.3,364.7 H535.7 M497.3,428.3 H535.7 M497.3,436.3 H535.7" stroke="#666" stroke-width="0.9" stroke-dasharray="3.5 2"/>
<text x="271.1" y="462" font-size="7.6" text-anchor="middle" font-weight="normal" fill="#333" transform="rotate(-90 271.1 462)" >120</text>
<text x="281.90000000000003" y="462" font-size="7.6" text-anchor="middle" font-weight="normal" fill="#333" transform="rotate(-90 281.90000000000003 462)" >210</text>
<text x="139.7" y="480.5" font-size="7.6" text-anchor="start" font-weight="normal" fill="#333" >±0,00</text>
<circle cx="131.2" cy="486.4" r="6.1" fill="#fff"/>
<g stroke="#888" fill="none" stroke-width="1.1"><circle cx="131.2" cy="486.4" r="3.9"/><line x1="122.99999999999999" y1="486.4" x2="139.39999999999998" y2="486.4"/><line x1="131.2" y1="478.2" x2="131.2" y2="494.59999999999997"/></g><path d="M131.2,482.5 A3.9,3.9 0 0,0 127.29999999999998,486.4 L131.2,486.4 Z" fill="#888"/><path d="M131.2,490.29999999999995 A3.9,3.9 0 0,0 135.1,486.4 L131.2,486.4 Z" fill="#888"/>
<line x1="132.4" y1="512.7" x2="185.7" y2="512.7" stroke="#888" stroke-width="0.8" />
<text x="141" y="510.50000000000006" font-size="7.6" text-anchor="middle" font-weight="normal" fill="#333" >45</text>
<text x="141" y="521.1" font-size="7.6" text-anchor="middle" font-weight="normal" fill="#333" >210</text>
<text x="181.6" y="505.8" font-size="7.6" text-anchor="middle" font-weight="normal" fill="#333" transform="rotate(-90 181.6 505.8)" >30</text>
<text x="181.6" y="518" font-size="7.6" text-anchor="middle" font-weight="normal" fill="#333" transform="rotate(-90 181.6 518)" >pm</text>
<line x1="186" y1="570" x2="296" y2="570" stroke="#666" stroke-width="0.8" />
<line x1="196.3" y1="566" x2="196.3" y2="574" stroke="#999" stroke-width="0.7" />
<line x1="193.10000000000002" y1="573.2" x2="199.5" y2="566.8" stroke="#111" stroke-width="1.2" />
<line x1="207.2" y1="566" x2="207.2" y2="574" stroke="#999" stroke-width="0.7" />
<line x1="204.0" y1="573.2" x2="210.39999999999998" y2="566.8" stroke="#111" stroke-width="1.2" />
<line x1="290.6" y1="566" x2="290.6" y2="574" stroke="#999" stroke-width="0.7" />
<line x1="287.40000000000003" y1="573.2" x2="293.8" y2="566.8" stroke="#111" stroke-width="1.2" />
<text x="190" y="568.7" font-size="7.6" text-anchor="end" font-weight="normal" fill="#333" >12</text>
<text x="214.5" y="568.7" font-size="7.6" text-anchor="middle" font-weight="normal" fill="#333" >30</text>
<text x="248" y="568.7" font-size="7.6" text-anchor="middle" font-weight="normal" fill="#333" >2,60</text>
<line x1="280" y1="569.4" x2="404" y2="569.4" stroke="#666" stroke-width="0.8" />
<line x1="288.9" y1="565.4" x2="288.9" y2="573.4" stroke="#999" stroke-width="0.7" />
<line x1="285.7" y1="572.6" x2="292.09999999999997" y2="566.1999999999999" stroke="#111" stroke-width="1.2" />
<line x1="290.7" y1="565.4" x2="290.7" y2="573.4" stroke="#999" stroke-width="0.7" />
<line x1="287.5" y1="572.6" x2="293.9" y2="566.1999999999999" stroke="#111" stroke-width="1.2" />
<line x1="386.7" y1="565.4" x2="386.7" y2="573.4" stroke="#999" stroke-width="0.7" />
<line x1="383.5" y1="572.6" x2="389.9" y2="566.1999999999999" stroke="#111" stroke-width="1.2" />
<line x1="393.9" y1="565.4" x2="393.9" y2="573.4" stroke="#999" stroke-width="0.7" />
<line x1="390.7" y1="572.6" x2="397.09999999999997" y2="566.1999999999999" stroke="#111" stroke-width="1.2" />
<line x1="401.9" y1="565.4" x2="401.9" y2="573.4" stroke="#999" stroke-width="0.7" />
<line x1="398.7" y1="572.6" x2="405.09999999999997" y2="566.1999999999999" stroke="#111" stroke-width="1.2" />
<text x="283" y="568.5" font-size="7.6" text-anchor="middle" font-weight="normal" fill="#333" >10</text>
<text x="335" y="568.5" font-size="7.6" text-anchor="middle" font-weight="normal" fill="#333" >3,00</text>
<text x="381" y="568.5" font-size="7.6" text-anchor="middle" font-weight="normal" fill="#333" >25</text>
<text x="409.4" y="568.5" font-size="7.6" text-anchor="middle" font-weight="normal" fill="#333" >25</text>
<line x1="402" y1="569.9" x2="500" y2="569.9" stroke="#666" stroke-width="0.8" />
<line x1="402.6" y1="565.9" x2="402.6" y2="573.9" stroke="#999" stroke-width="0.7" />
<line x1="399.40000000000003" y1="573.1" x2="405.8" y2="566.6999999999999" stroke="#111" stroke-width="1.2" />
<line x1="498.6" y1="565.9" x2="498.6" y2="573.9" stroke="#999" stroke-width="0.7" />
<line x1="495.40000000000003" y1="573.1" x2="501.8" y2="566.6999999999999" stroke="#111" stroke-width="1.2" />
<text x="449.7" y="569.0" font-size="7.6" text-anchor="middle" font-weight="normal" fill="#333" >3,00</text>
<text x="490.5" y="569.0" font-size="7.6" text-anchor="middle" font-weight="normal" fill="#333" >10</text>
<line x1="392" y1="478.4" x2="620" y2="478.4" stroke="#666" stroke-width="0.8" />
<line x1="394.5" y1="474.4" x2="394.5" y2="482.4" stroke="#999" stroke-width="0.7" />
<line x1="391.3" y1="481.59999999999997" x2="397.7" y2="475.2" stroke="#111" stroke-width="1.2" />
<line x1="402.2" y1="474.4" x2="402.2" y2="482.4" stroke="#999" stroke-width="0.7" />
<line x1="399.0" y1="481.59999999999997" x2="405.4" y2="475.2" stroke="#111" stroke-width="1.2" />
<line x1="491.2" y1="474.4" x2="491.2" y2="482.4" stroke="#999" stroke-width="0.7" />
<line x1="488.0" y1="481.59999999999997" x2="494.4" y2="475.2" stroke="#111" stroke-width="1.2" />
<line x1="494.2" y1="474.4" x2="494.2" y2="482.4" stroke="#999" stroke-width="0.7" />
<line x1="491.0" y1="481.59999999999997" x2="497.4" y2="475.2" stroke="#111" stroke-width="1.2" />
<line x1="541" y1="474.4" x2="541" y2="482.4" stroke="#999" stroke-width="0.7" />
<line x1="537.8" y1="481.59999999999997" x2="544.2" y2="475.2" stroke="#111" stroke-width="1.2" />
<line x1="544" y1="474.4" x2="544" y2="482.4" stroke="#999" stroke-width="0.7" />
<line x1="540.8" y1="481.59999999999997" x2="547.2" y2="475.2" stroke="#111" stroke-width="1.2" />
<text x="442.4" y="477.09999999999997" font-size="7.6" text-anchor="middle" font-weight="normal" fill="#333" >2,80</text>
<text x="485" y="477.09999999999997" font-size="7.6" text-anchor="middle" font-weight="normal" fill="#333" >10</text>
<text x="514.6" y="477.09999999999997" font-size="7.6" text-anchor="middle" font-weight="normal" fill="#333" >1,50</text>
<text x="533.9" y="477.09999999999997" font-size="7.6" text-anchor="middle" font-weight="normal" fill="#333" >10</text>
<line x1="494.2" y1="440.3" x2="518" y2="440.3" stroke="#666" stroke-width="0.9"/>
<path d="M518,440.3 A24,24 0 0,1 494.2,464.3" fill="none" stroke="#666" stroke-width="0.8"/>
<text x="505.5" y="450.5" font-size="7.6" text-anchor="middle" font-weight="normal" fill="#333" >90</text>
<text x="503.5" y="460.7" font-size="7.6" text-anchor="middle" font-weight="normal" fill="#333" >210</text>
<line x1="494.2" y1="453.5" x2="516" y2="453.5" stroke="#999" stroke-width="0.7" />
<line x1="544" y1="440.3" x2="565.4" y2="440.3" stroke="#666" stroke-width="0.9"/>
<path d="M565.4,440.3 A21.4,21.4 0 0,1 544,461.7" fill="none" stroke="#666" stroke-width="0.8"/>
<text x="556" y="447.4" font-size="7.6" text-anchor="middle" font-weight="normal" fill="#333" >75</text>
<text x="554" y="458.6" font-size="7.6" text-anchor="middle" font-weight="normal" fill="#333" >210</text>
<line x1="528.8" y1="482" x2="528.8" y2="508" stroke="#666" stroke-width="0.9"/>
<path d="M528.8,508 A26,26 0 0,1 502.8,482" fill="none" stroke="#666" stroke-width="0.8"/>
<text x="515.6" y="494.2" font-size="7.6" text-anchor="middle" font-weight="normal" fill="#333" transform="rotate(-90 515.6 494.2)" >90</text>
<text x="527.8" y="492.2" font-size="7.6" text-anchor="middle" font-weight="normal" fill="#333" transform="rotate(-90 527.8 492.2)" >210</text>
<line x1="518.6" y1="482" x2="518.6" y2="510" stroke="#999" stroke-width="0.7" />
<text x="613.5" y="466" font-size="7.6" text-anchor="middle" font-weight="normal" fill="#333" transform="rotate(-90 613.5 466)" >40</text>
<text x="613.5" y="478" font-size="7.6" text-anchor="middle" font-weight="normal" fill="#333" transform="rotate(-90 613.5 478)" >pm</text>
<text x="622.5" y="476" font-size="7.6" text-anchor="middle" font-weight="normal" fill="#333" >42</text>
<line x1="131.6" y1="389.2" x2="186" y2="389.2" stroke="#888" stroke-width="0.8" />
<text x="141" y="385.8" font-size="7.6" text-anchor="middle" font-weight="normal" fill="#333" >120</text>
<text x="138.5" y="397.5" font-size="7.6" text-anchor="middle" font-weight="normal" fill="#333" >60</text>
<text x="181.9" y="382.8" font-size="7.6" text-anchor="middle" font-weight="normal" fill="#333" transform="rotate(-90 181.9 382.8)" >90</text>
<text x="168.2" y="395.5" font-size="7.6" text-anchor="start" font-weight="normal" fill="#333" >pm 90</text>
<line x1="179.9" y1="383.3" x2="179.9" y2="415" stroke="#999" stroke-width="0.8" />
<polyline points="162.6,162.7 143.6,162.7 143.6,412.2" fill="none" stroke="#777" stroke-width="0.9" />
<polyline points="143.6,413.9 128.3,413.9 128.3,786.1 96.8,786.1 96.8,828" fill="none" stroke="#777" stroke-width="0.9" />
<polyline points="627.8,120.8 646.5,120.8 646.5,370.3" fill="none" stroke="#777" stroke-width="0.9" />
<polyline points="661.8,370.3 661.8,786.4 692.7,786.4 692.7,828" fill="none" stroke="#777" stroke-width="0.9" />
<line x1="159.8" y1="555.6" x2="159.8" y2="828" stroke="#666" stroke-width="0.9" />
<line x1="630.3" y1="509.4" x2="630.3" y2="828" stroke="#666" stroke-width="0.9" />
<polyline points="159.3,572.6 178.9,572.6 178.9,650.9 262,650.9" fill="none" stroke="#777" stroke-width="0.9" />
<polyline points="630.4,529.5 612.5,529.5 612.5,608.3 526,608.3 526,651.2 491.7,651.2" fill="none" stroke="#777" stroke-width="0.9" />
<polyline points="263.3,693.7 299,693.7" fill="none" stroke="#777" stroke-width="0.9" />
<polyline points="377.4,716 387,716" fill="none" stroke="#777" stroke-width="0.9" />
<line x1="159.3" y1="677.5" x2="630.3" y2="677.5" stroke="#555" stroke-width="1" stroke-dasharray="7 3"/>
<text x="628.3" y="672.8" font-size="8.5" text-anchor="end" font-weight="normal" fill="#333" >beépítési vonal</text>
<text x="115" y="798.3" font-size="7.6" text-anchor="start" font-weight="normal" fill="#333" >±0,00</text>
<circle cx="107.4" cy="806" r="6.1" fill="#fff"/>
<g stroke="#888" fill="none" stroke-width="1.1"><circle cx="107.4" cy="806" r="3.9"/><line x1="99.2" y1="806" x2="115.60000000000001" y2="806"/><line x1="107.4" y1="797.8" x2="107.4" y2="814.2"/></g><path d="M107.4,802.1 A3.9,3.9 0 0,0 103.5,806 L107.4,806 Z" fill="#888"/><path d="M107.4,809.9 A3.9,3.9 0 0,0 111.30000000000001,806 L107.4,806 Z" fill="#888"/>
<text x="646" y="798.3" font-size="7.6" text-anchor="start" font-weight="normal" fill="#333" >±0,00</text>
<circle cx="637.8" cy="806.4" r="6.1" fill="#fff"/>
<g stroke="#888" fill="none" stroke-width="1.1"><circle cx="637.8" cy="806.4" r="3.9"/><line x1="629.5999999999999" y1="806.4" x2="646.0" y2="806.4"/><line x1="637.8" y1="798.1999999999999" x2="637.8" y2="814.6"/></g><path d="M637.8,802.5 A3.9,3.9 0 0,0 633.9,806.4 L637.8,806.4 Z" fill="#888"/><path d="M637.8,810.3 A3.9,3.9 0 0,0 641.6999999999999,806.4 L637.8,806.4 Z" fill="#888"/>
<path d="M121.2,840 V815.6 A24.4,24.4 0 0,1 145.6,840" fill="none" stroke="#666" stroke-width="0.9"/>
<path d="M645,840 V815.5 A24.5,24.5 0 0,1 669.5,840" fill="none" stroke="#666" stroke-width="0.9"/>
<text x="199" y="65" font-size="7.6" text-anchor="start" font-weight="normal" fill="#333" >±0,00</text>
<circle cx="191.1" cy="73.2" r="6.1" fill="#fff"/>
<g stroke="#888" fill="none" stroke-width="1.1"><circle cx="191.1" cy="73.2" r="3.9"/><line x1="182.9" y1="73.2" x2="199.29999999999998" y2="73.2"/><line x1="191.1" y1="65.0" x2="191.1" y2="81.4"/></g><path d="M191.1,69.3 A3.9,3.9 0 0,0 187.2,73.2 L191.1,73.2 Z" fill="#888"/><path d="M191.1,77.10000000000001 A3.9,3.9 0 0,0 195.0,73.2 L191.1,73.2 Z" fill="#888"/>
<text x="662" y="71" font-size="7.6" text-anchor="start" font-weight="normal" fill="#333" >±0,00</text>
<circle cx="654.5" cy="79.3" r="6.1" fill="#fff"/>
<g stroke="#888" fill="none" stroke-width="1.1"><circle cx="654.5" cy="79.3" r="3.9"/><line x1="646.3" y1="79.3" x2="662.7" y2="79.3"/><line x1="654.5" y1="71.1" x2="654.5" y2="87.5"/></g><path d="M654.5,75.39999999999999 A3.9,3.9 0 0,0 650.6,79.3 L654.5,79.3 Z" fill="#888"/><path d="M654.5,83.2 A3.9,3.9 0 0,0 658.4,79.3 L654.5,79.3 Z" fill="#888"/>
<line x1="166.9" y1="616" x2="229.8" y2="616" stroke="#888" stroke-width="0.8" />
<text x="173.5" y="612.6" font-size="7.6" text-anchor="middle" font-weight="normal" fill="#333" >90</text>
<text x="173.5" y="622.9" font-size="7.6" text-anchor="middle" font-weight="normal" fill="#333" >60</text>
<text x="207.4" y="617.3" font-size="7.6" text-anchor="start" font-weight="normal" fill="#333" >pm 90</text>
<text x="217.6" y="610.3" font-size="7.6" text-anchor="middle" font-weight="normal" fill="#333" transform="rotate(-90 217.6 610.3)" >90</text>
<line x1="218.6" y1="604.7" x2="218.6" y2="662" stroke="#888" stroke-width="0.8" />
<text x="215.79999999999998" y="653.7" font-size="7.6" text-anchor="middle" font-weight="normal" fill="#333" transform="rotate(-90 215.79999999999998 653.7)" >120</text>
<text x="228.4" y="653.7" font-size="7.6" text-anchor="middle" font-weight="normal" fill="#333" transform="rotate(-90 228.4 653.7)" >60</text>
<line x1="562" y1="572.5" x2="622" y2="572.5" stroke="#888" stroke-width="0.8" />
<text x="616.2" y="569.1" font-size="7.6" text-anchor="middle" font-weight="normal" fill="#333" >90</text>
<text x="616.2" y="579.4" font-size="7.6" text-anchor="middle" font-weight="normal" fill="#333" >60</text>
<line x1="571.5" y1="566" x2="571.5" y2="640" stroke="#888" stroke-width="0.8" />
<text x="566.4" y="611" font-size="7.6" text-anchor="middle" font-weight="normal" fill="#333" transform="rotate(-90 566.4 611)" >120</text>
<text x="577.6" y="611" font-size="7.6" text-anchor="middle" font-weight="normal" fill="#333" transform="rotate(-90 577.6 611)" >60</text>
<text x="560" y="573" font-size="7.6" text-anchor="start" font-weight="normal" fill="#333" >pm 90</text>
<line x1="487" y1="570.4" x2="600" y2="570.4" stroke="#666" stroke-width="0.8" />
<line x1="498.6" y1="566.4" x2="498.6" y2="574.4" stroke="#999" stroke-width="0.7" />
<line x1="495.40000000000003" y1="573.6" x2="501.8" y2="567.1999999999999" stroke="#111" stroke-width="1.2" />
<line x1="582.7" y1="566.4" x2="582.7" y2="574.4" stroke="#999" stroke-width="0.7" />
<line x1="579.5" y1="573.6" x2="585.9000000000001" y2="567.1999999999999" stroke="#111" stroke-width="1.2" />
<line x1="591.8" y1="566.4" x2="591.8" y2="574.4" stroke="#999" stroke-width="0.7" />
<line x1="588.5999999999999" y1="573.6" x2="595.0" y2="567.1999999999999" stroke="#111" stroke-width="1.2" />
<line x1="595.9" y1="566.4" x2="595.9" y2="574.4" stroke="#999" stroke-width="0.7" />
<line x1="592.6999999999999" y1="573.6" x2="599.1" y2="567.1999999999999" stroke="#111" stroke-width="1.2" />
<text x="491.2" y="569.1" font-size="7.6" text-anchor="middle" font-weight="normal" fill="#333" >10</text>
<text x="541" y="569.1" font-size="7.6" text-anchor="middle" font-weight="normal" fill="#333" >2,60</text>
<text x="588.8" y="569.1" font-size="7.6" text-anchor="middle" font-weight="normal" fill="#333" >30</text>
<text x="602" y="568.1999999999999" font-size="7.6" text-anchor="start" font-weight="normal" fill="#333" >12</text>
<line x1="605" y1="467.7" x2="660" y2="467.7" stroke="#888" stroke-width="0.8" />
<text x="651.5" y="465.5" font-size="7.6" text-anchor="middle" font-weight="normal" fill="#333" >40</text>
<text x="651.5" y="476.09999999999997" font-size="7.6" text-anchor="middle" font-weight="normal" fill="#333" >200</text>
<circle cx="642.4" cy="444.5" r="6.1" fill="#fff"/>
<g stroke="#888" fill="none" stroke-width="1.1"><circle cx="642.4" cy="444.5" r="3.9"/><line x1="634.1999999999999" y1="444.5" x2="650.6" y2="444.5"/><line x1="642.4" y1="436.3" x2="642.4" y2="452.7"/></g><path d="M642.4,440.6 A3.9,3.9 0 0,0 638.5,444.5 L642.4,444.5 Z" fill="#888"/><path d="M642.4,448.4 A3.9,3.9 0 0,0 646.3,444.5 L642.4,444.5 Z" fill="#888"/>
<line x1="451.5" y1="609.7" x2="451.5" y2="661.4" stroke="#888" stroke-width="0.8" />
<text x="449.1" y="644" font-size="7.6" text-anchor="middle" font-weight="normal" fill="#333" transform="rotate(-90 449.1 644)" >225</text>
<text x="459.7" y="644" font-size="7.6" text-anchor="middle" font-weight="normal" fill="#333" transform="rotate(-90 459.7 644)" >210</text>
<line x1="338.2" y1="660" x2="338.2" y2="704.6" stroke="#888" stroke-width="0.8" />
<text x="335.8" y="687.3" font-size="7.6" text-anchor="middle" font-weight="normal" fill="#333" transform="rotate(-90 335.8 687.3)" >225</text>
<text x="346.4" y="687.3" font-size="7.6" text-anchor="middle" font-weight="normal" fill="#333" transform="rotate(-90 346.4 687.3)" >210</text>
<text x="356.7" y="684.8" font-size="7.6" text-anchor="middle" font-weight="normal" fill="#333" transform="rotate(-90 356.7 684.8)" >42</text>
<text x="431" y="701" font-size="7.6" text-anchor="start" font-weight="normal" fill="#333" >±0,00</text>
<circle cx="423.6" cy="710" r="6.1" fill="#fff"/>
<g stroke="#888" fill="none" stroke-width="1.1"><circle cx="423.6" cy="710" r="3.9"/><line x1="415.40000000000003" y1="710" x2="431.8" y2="710"/><line x1="423.6" y1="701.8" x2="423.6" y2="718.2"/></g><path d="M423.6,706.1 A3.9,3.9 0 0,0 419.70000000000005,710 L423.6,710 Z" fill="#888"/><path d="M423.6,713.9 A3.9,3.9 0 0,0 427.5,710 L423.6,710 Z" fill="#888"/>
<g opacity="0.26"><polygon points="360.2,310.5 393,294.9 425.7,309.9 425.7,324.5 393,308.9 360.2,324.5" fill="#000"/><path d="M338.2,443.5 V367.2 A20.4,20.4 0 0,1 379,367.2 V443.5" fill="none" stroke="#000" stroke-width="13.8" stroke-linecap="butt" stroke-linejoin="miter"/><path d="M447.82,359.59 A22.45,22.45 0 0,0 404.55,368 V413.7 A22.45,22.45 0 0,0 447.82,422.11" fill="none" stroke="#000" stroke-width="13.8" stroke-linecap="butt" stroke-linejoin="miter"/><rect x="334.04999999999995" y="471.04999999999995" width="10.2" height="24.00000000000001" rx="5.1" ry="5.1" fill="none" stroke="#000" stroke-width="4.3"/><path d="M350.7,471.04999999999995 H365.3 M358.0,468.9 V497.2" fill="none" stroke="#000" stroke-width="4.3" stroke-linecap="butt" stroke-linejoin="miter"/><path d="M370.5,471.04999999999995 H384.2 M377.35,468.9 V497.2" fill="none" stroke="#000" stroke-width="4.3" stroke-linecap="butt" stroke-linejoin="miter"/><path d="M394.95,468.9 V497.2 M404.45000000000005,468.9 V497.2 M394.95,483.04999999999995 H404.45000000000005" fill="none" stroke="#000" stroke-width="4.3" stroke-linecap="butt" stroke-linejoin="miter"/><rect x="416.34999999999997" y="471.04999999999995" width="11.100000000000033" height="24.00000000000001" rx="5.550000000000017" ry="5.550000000000017" fill="none" stroke="#000" stroke-width="4.3"/><path d="M438.15,497.2 V468.9 L449.75,497.2 V468.9" fill="none" stroke="#000" stroke-width="4.3" stroke-linecap="butt" stroke-linejoin="miter"/><path d="M342.35,514.73 A4.70,4.70 0 0,0 334.05,517.75 V528.95 A4.70,4.70 0 0,0 342.35,531.97" fill="none" stroke="#000" stroke-width="4.3" stroke-linecap="butt" stroke-linejoin="miter"/><path d="M361.9,513.05 H352.84999999999997 V533.65 H361.9 M352.84999999999997,523.3499999999999 H360.9" fill="none" stroke="#000" stroke-width="4.3" stroke-linecap="butt" stroke-linejoin="miter"/><path d="M369.15,535.8 V510.9 L378.55,535.8 V510.9" fill="none" stroke="#000" stroke-width="4.3" stroke-linecap="butt" stroke-linejoin="miter"/><path d="M383.3,513.05 H397 M390.15,510.9 V535.8" fill="none" stroke="#000" stroke-width="4.3" stroke-linecap="butt" stroke-linejoin="miter"/><path d="M402.65,535.8 V513.05 H406.27500000000003 A4.0749999999999655,4.0749999999999655 0 0,1 406.27500000000003,523.3499999999999 H402.65 M406.5,523.3499999999999 L410.35,535.8" fill="none" stroke="#000" stroke-width="4.3" stroke-linecap="butt" stroke-linejoin="miter"/><path d="M418.15,510.9 V529.0 A4.650000000000011,4.650000000000011 0 0,0 427.45000000000005,529.0 V510.9" fill="none" stroke="#000" stroke-width="4.3" stroke-linecap="butt" stroke-linejoin="miter"/><path d="M436.04999999999995,535.8 V510.9 L443.75,529.8 L451.45000000000005,510.9 V535.8" fill="none" stroke="#000" stroke-width="4.3" stroke-linecap="butt" stroke-linejoin="miter"/></g>
</svg></body></html>
